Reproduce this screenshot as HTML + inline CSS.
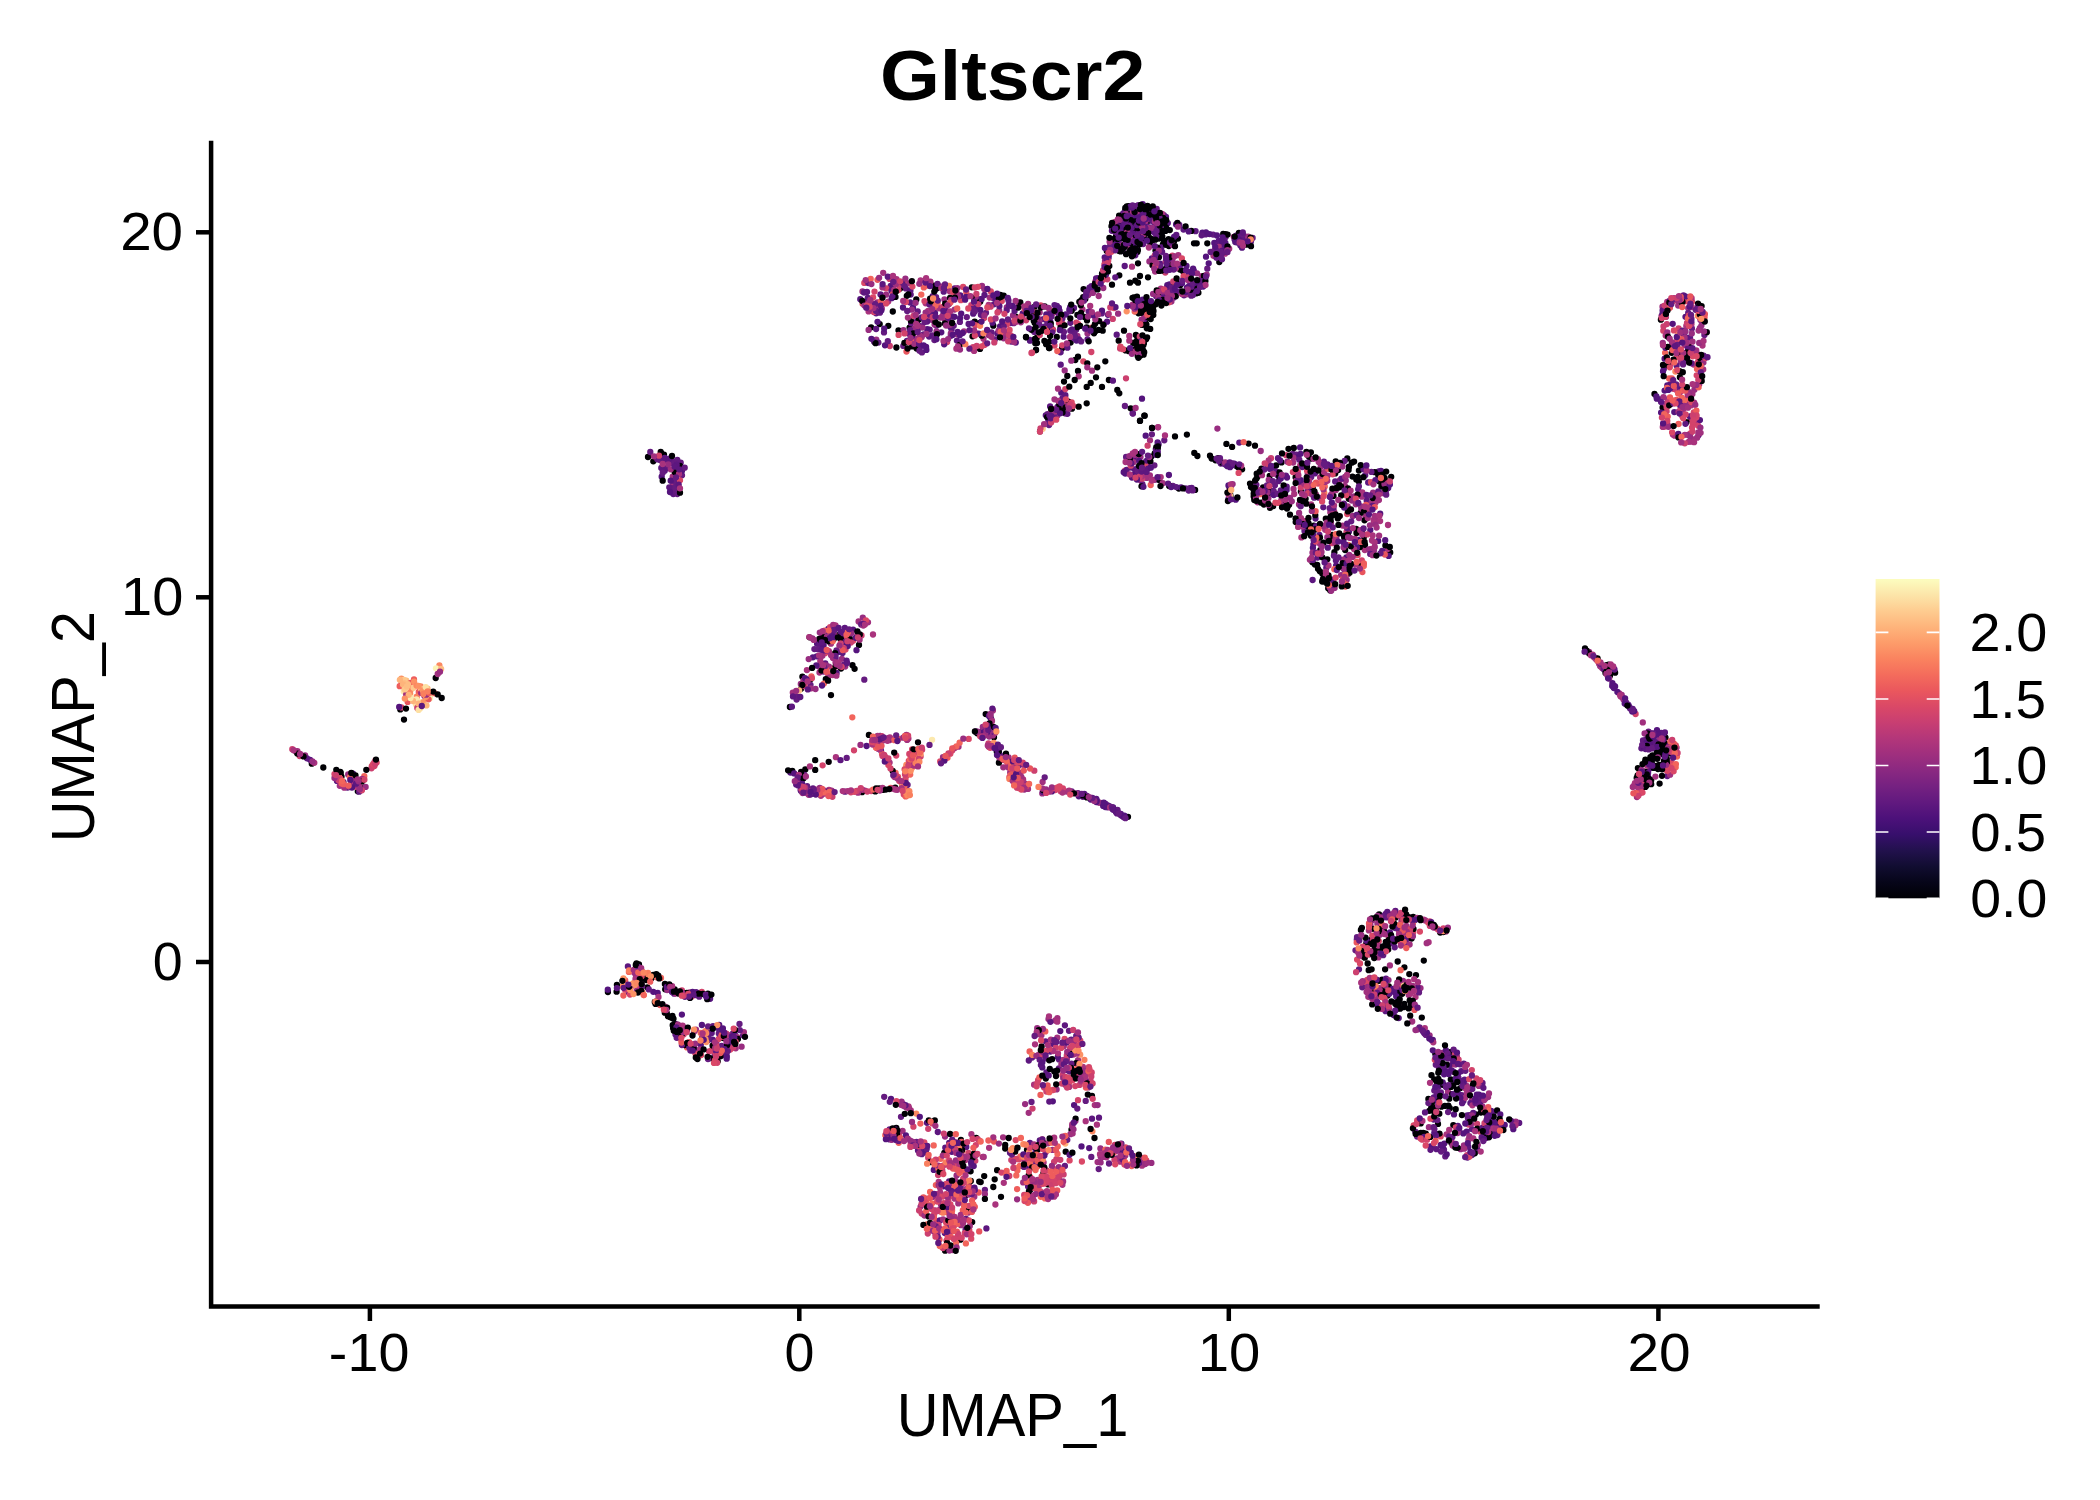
<!DOCTYPE html><html lang="en"><head><meta charset="utf-8"><title>Gltscr2</title>
<style>html,body{margin:0;padding:0;background:#fff}svg{display:block}text{font-family:"Liberation Sans",sans-serif;fill:#000}</style></head><body>
<svg width="2100" height="1500" viewBox="0 0 2100 1500">
<rect width="2100" height="1500" fill="#fff"/>
<defs><linearGradient id="mg" x1="0" y1="1" x2="0" y2="0">
<stop offset="0.00" stop-color="#000004"/>
<stop offset="0.05" stop-color="#060519"/>
<stop offset="0.10" stop-color="#110d31"/>
<stop offset="0.15" stop-color="#22114d"/>
<stop offset="0.20" stop-color="#370f6c"/>
<stop offset="0.25" stop-color="#4c117a"/>
<stop offset="0.30" stop-color="#61197f"/>
<stop offset="0.35" stop-color="#752181"/>
<stop offset="0.40" stop-color="#8a2881"/>
<stop offset="0.45" stop-color="#9f2f7e"/>
<stop offset="0.50" stop-color="#b3367a"/>
<stop offset="0.55" stop-color="#c83e72"/>
<stop offset="0.60" stop-color="#da4867"/>
<stop offset="0.65" stop-color="#ea575d"/>
<stop offset="0.70" stop-color="#f46c5c"/>
<stop offset="0.75" stop-color="#fa835f"/>
<stop offset="0.80" stop-color="#fd9c6a"/>
<stop offset="0.85" stop-color="#feb47b"/>
<stop offset="0.90" stop-color="#fecc90"/>
<stop offset="0.95" stop-color="#fce5a9"/>
<stop offset="1.00" stop-color="#fcfdbf"/>
</linearGradient></defs>
<g stroke="#000" stroke-width="4.5" fill="none" stroke-linecap="butt">
<path d="M211.1 140.7V1308.8M208.9 1306.55H1819.7"/>
<path d="M196 232.3H209.5"/>
<path d="M196 597.3H209.5"/>
<path d="M196 962.0H209.5"/>
<path d="M369.9 1308V1321"/>
<path d="M799.3 1308V1321"/>
<path d="M1228.8 1308V1321"/>
<path d="M1658.4 1308V1321"/>
</g>
<text transform="translate(120.17,250.20) scale(1.0673,1)" font-size="53">20</text>
<text transform="translate(121.12,615.00) scale(1.0558,1)" font-size="53">10</text>
<text transform="translate(152.85,980.40) scale(1.0142,1)" font-size="53">0</text>
<text transform="translate(328.87,1370.50) scale(1.0508,1)" font-size="53">-10</text>
<text transform="translate(784.55,1370.50) scale(1.0142,1)" font-size="53">0</text>
<text transform="translate(1197.80,1370.50) scale(1.0616,1)" font-size="53">10</text>
<text transform="translate(1627.46,1370.50) scale(1.0729,1)" font-size="53">20</text>
<text transform="translate(896.77,1435.70) scale(0.9583,1)" font-size="60.4">UMAP_1</text>
<text transform="translate(94,842.22) rotate(-90) scale(0.9566,1)" font-size="60.4">UMAP_2</text>
<text transform="translate(879.92,100.00) scale(1.1080,1)" font-size="69.5" font-weight="bold">Gltscr2</text>
<rect x="1875.6" y="579" width="63.9" height="319.3" fill="url(#mg)"/>
<g stroke="#fff" stroke-width="1.6">
<path d="M1875.6 632.4h12.8M1926.7 632.4h12.8"/>
<path d="M1875.6 699.0h12.8M1926.7 699.0h12.8"/>
<path d="M1875.6 765.5h12.8M1926.7 765.5h12.8"/>
<path d="M1875.6 832.0h12.8M1926.7 832.0h12.8"/>
<path d="M1875.6 898.3h12.8M1926.7 898.3h12.8"/>
</g>
<text transform="translate(1969.61,650.90) scale(1.0537,1)" font-size="53">2.0</text>
<text transform="translate(1969.60,717.50) scale(1.0370,1)" font-size="53">1.5</text>
<text transform="translate(1969.53,784.00) scale(1.0548,1)" font-size="53">1.0</text>
<text transform="translate(1970.22,850.50) scale(1.0284,1)" font-size="53">0.5</text>
<text transform="translate(1970.18,917.00) scale(1.0457,1)" font-size="53">0.0</text>
<g fill="none" stroke-width="6.30" stroke-linecap="round">
<path stroke="#000004" d="M654.8 1002.0h0M1388.1 944.9h0M974.7 321.7h0M1451.5 1142.9h0M435.7 678.0h0M993.3 1187.0h0M1425.8 1133.6h0M957.3 1144.6h0M1102.0 386.9h0M1162.9 244.5h0M1372.2 1004.4h0M1283.7 505.4h0M1149.2 316.8h0M1134.8 349.3h0M1117.3 390.0h0M1180.0 269.6h0M1116.8 248.3h0M1110.7 245.0h0M1651.8 761.9h0M1138.6 303.7h0M882.8 789.9h0M1036.7 338.0h0M1143.9 309.3h0M960.4 1239.7h0M990.5 717.7h0M1360.9 929.9h0M1148.4 220.8h0M1126.8 206.5h0M815.2 769.9h0M879.1 788.4h0M1450.1 1052.1h0M994.0 737.2h0M1151.5 304.0h0M1165.5 299.1h0M666.8 1013.1h0M1382.1 979.7h0M1368.3 941.7h0M815.2 760.2h0M1015.6 316.7h0M1143.1 350.5h0M1254.1 484.3h0M1169.2 295.5h0M895.8 1131.5h0M671.8 1017.7h0M1472.6 1085.4h0M1326.2 581.5h0M1299.5 519.1h0M1128.0 816.8h0M1643.0 774.3h0M1679.4 341.2h0"/>
<path stroke="#a1307e" d="M1005.5 759.0h0M1137.4 457.5h0M1073.3 1054.6h0M1078.0 1060.1h0M905.6 788.5h0M1092.0 370.7h0M966.0 1207.6h0M1150.9 229.0h0M1339.7 480.5h0M988.7 746.8h0M954.6 309.6h0M843.8 640.1h0M1370.4 925.1h0M1315.9 494.4h0"/>
<path stroke="#ee5d5c" d="M827.7 672.9h0M951.8 1213.4h0M934.9 1166.9h0"/>
<path stroke="#651b80" d="M1646.3 739.1h0M955.8 295.9h0M1034.3 331.9h0M1146.3 225.8h0M1212.8 252.3h0M960.5 1146.1h0M1458.5 1077.9h0M1356.8 939.6h0M1156.7 209.0h0M1444.0 1149.7h0M1453.0 1082.5h0M1085.7 1100.9h0M1296.5 454.7h0M350.8 784.7h0M889.6 1129.5h0M1277.5 475.2h0M1172.9 486.0h0M993.2 298.0h0M1117.5 810.0h0M1126.1 457.0h0M960.7 1186.7h0"/>
<path stroke="#da4867" d="M1001.8 301.0h0M1413.2 932.2h0M825.1 653.2h0M1440.7 1136.4h0M1399.2 985.5h0M1413.7 1125.5h0M1405.8 936.0h0M1040.6 319.6h0M932.4 1123.4h0M940.2 761.5h0M1318.1 483.6h0"/>
<path stroke="#982d80" d="M1048.5 421.5h0M940.2 1209.1h0M741.6 1046.7h0M1428.9 1127.2h0M845.2 666.5h0M1382.3 493.2h0M1460.6 1149.2h0M1687.8 402.0h0M1694.4 389.7h0M1104.0 324.0h0M1331.0 522.8h0M880.8 740.4h0M1641.9 780.4h0M876.3 339.7h0M864.9 790.6h0M1320.6 466.8h0"/>
<path stroke="#55147d" d="M941.3 332.3h0M842.6 642.4h0M943.5 1186.3h0M1625.3 701.9h0M1477.1 1148.8h0M838.3 652.1h0M710.1 998.8h0M1121.8 222.3h0M1432.8 1039.9h0M817.1 643.7h0M1412.1 1007.5h0M790.4 772.6h0M1378.2 1004.2h0M1188.3 275.4h0M725.8 1035.5h0M1314.9 473.4h0M1158.6 444.2h0M1051.6 789.4h0M1045.8 415.3h0M1235.3 242.0h0M891.2 1130.3h0M1134.4 225.1h0M1015.8 342.6h0"/>
<path stroke="#a9337d" d="M1693.7 364.5h0M665.0 1006.6h0M1138.3 459.3h0M1229.2 248.7h0M923.0 1151.3h0M1622.8 697.6h0M1311.1 504.4h0M1038.6 1055.0h0M1378.5 987.9h0M1371.4 548.9h0M983.5 338.8h0M829.0 789.8h0M875.4 744.4h0M888.2 301.6h0M1261.7 471.3h0M1594.2 657.5h0"/>
<path stroke="#cc406f" d="M971.3 305.2h0M1605.6 667.9h0M1694.4 352.5h0M906.3 775.8h0M1006.5 333.5h0M1665.4 769.6h0M921.7 1213.6h0M353.9 778.5h0M958.4 1166.3h0M1010.7 335.3h0M1107.3 279.3h0M1034.1 1201.4h0M1062.5 1074.9h0M1011.3 1160.1h0M969.0 1185.1h0M927.8 1233.5h0"/>
<path stroke="#5d177f" d="M1057.5 407.0h0M813.0 788.3h0M1000.0 755.2h0M1220.8 463.5h0M1131.2 247.2h0M1365.2 475.2h0M1359.0 969.3h0M1050.6 331.4h0M1148.5 217.9h0M1491.7 1118.7h0M1415.3 1131.7h0M1650.7 765.8h0M937.8 1132.0h0M975.9 308.0h0M932.0 304.2h0M842.5 653.0h0M935.3 289.6h0M1062.3 398.6h0M1133.3 239.2h0M1002.4 756.7h0M1145.7 462.0h0M918.0 1150.4h0M1519.2 1122.9h0M1138.1 467.6h0"/>
<path stroke="#d3436b" d="M959.7 1218.9h0M1055.2 1177.5h0M1124.5 1164.6h0M1678.7 296.9h0M1119.6 1159.3h0M1331.9 543.2h0M903.8 794.4h0M683.6 1034.5h0M968.4 1152.9h0M899.1 1135.2h0M1422.3 1139.7h0M1437.7 929.2h0"/>
<path stroke="#e8555d" d="M1414.5 1009.9h0M994.0 1141.5h0"/>
<path stroke="#feb47b" d="M1065.3 1143.6h0"/>
<path stroke="#fb8861" d="M622.6 986.2h0M966.4 1181.4h0M680.0 1038.8h0"/>
<path stroke="#f97f5e" d="M429.6 696.8h0M706.8 1030.8h0"/>
<path stroke="#fde0a3" d="M416.0 704.6h0"/>
<path stroke="#f2655c" d="M1324.8 486.5h0M933.7 1145.4h0M1677.0 756.5h0"/>
<path stroke="#fc9264" d="M1080.2 1054.7h0M1126.7 311.3h0"/>
<path stroke="#000004" d="M1657.2 752.3h0M972.2 1222.1h0M1076.1 1063.2h0M1416.0 975.1h0M1357.8 476.9h0M972.5 336.3h0M879.7 324.1h0M707.2 999.2h0M838.5 635.2h0M357.8 791.3h0M1585.0 648.5h0M717.7 1061.2h0M822.6 635.0h0M1163.5 225.6h0M1151.6 310.2h0M1147.3 308.0h0M1049.3 341.8h0M1119.3 393.3h0M1263.9 504.5h0M960.9 1139.9h0M1238.4 465.5h0M1173.8 267.3h0M1300.9 491.5h0M1169.8 230.1h0M1333.5 495.9h0M1137.6 310.1h0M693.6 1046.0h0M1186.9 434.6h0M1048.2 1184.4h0M1283.0 501.6h0M688.9 1045.3h0M976.2 1137.8h0M1644.8 782.4h0M707.9 996.2h0M1441.4 1106.7h0M1305.6 498.8h0M1133.2 343.0h0M1689.3 346.6h0M1056.8 336.9h0M1683.6 333.0h0M1176.3 282.3h0M1174.0 241.2h0M819.3 639.0h0M1701.6 306.1h0M1311.3 527.3h0M1672.8 746.8h0M1226.4 443.9h0M1140.2 355.7h0M1301.9 521.5h0M1030.5 1189.6h0M1491.1 1133.5h0M1413.5 929.0h0M916.6 348.6h0M1138.5 313.3h0M1363.4 984.9h0"/>
<path stroke="#5d177f" d="M1124.9 231.2h0M1183.5 229.5h0M1169.4 284.5h0M1028.1 1186.4h0M1641.4 748.3h0M1142.2 469.5h0M1039.2 324.6h0M1043.6 319.1h0M1366.7 500.5h0M1074.0 307.9h0M1286.7 486.7h0M956.9 340.6h0M1122.3 1148.4h0M1471.9 1155.0h0M1464.6 1079.7h0M1386.8 1008.5h0M1649.0 746.0h0M707.7 1040.4h0M1626.0 704.1h0M1240.4 245.4h0M1122.1 215.4h0M1301.1 483.6h0M1048.2 418.9h0M876.1 313.3h0M1195.6 231.2h0M1033.4 316.4h0M735.0 1035.0h0M1319.4 534.8h0M673.3 494.0h0"/>
<path stroke="#651b80" d="M1102.0 803.2h0M1032.1 1057.5h0M1175.3 293.5h0M1179.3 224.8h0M881.0 750.4h0M884.2 1096.8h0M726.3 1052.8h0M966.8 317.1h0M1425.9 1034.9h0M1064.9 1166.0h0M1069.0 1030.8h0M1698.5 435.3h0M676.1 1024.1h0M1307.4 490.9h0M1070.3 330.8h0M1434.3 1090.6h0M1155.7 479.6h0M714.7 1054.8h0M889.7 1139.4h0M1108.7 255.2h0M965.6 1229.4h0M1220.0 248.7h0M684.9 996.8h0M1667.3 776.0h0M1654.6 740.9h0M1147.9 313.2h0"/>
<path stroke="#d3436b" d="M1268.0 465.3h0M936.5 1221.2h0M1388.9 937.3h0M1088.9 1067.2h0M1696.7 375.3h0M640.0 988.0h0M1004.6 758.8h0M952.2 750.4h0M1385.5 480.5h0M964.7 1233.2h0M919.2 1146.5h0"/>
<path stroke="#a9337d" d="M1364.8 550.0h0M857.2 635.5h0M1398.8 930.3h0M1129.3 340.7h0M816.6 791.9h0M1281.3 500.1h0M954.6 1217.0h0M971.4 1134.2h0M878.4 306.7h0M1446.0 931.6h0M678.3 1034.5h0M974.1 350.9h0"/>
<path stroke="#f97f5e" d="M908.6 768.0h0M406.0 687.9h0M1324.3 493.0h0"/>
<path stroke="#a1307e" d="M924.5 1215.6h0M672.7 476.7h0M955.4 1142.1h0M866.7 302.3h0M1335.1 543.0h0M1378.3 957.4h0M1008.6 757.3h0M901.0 1104.8h0M952.3 1250.1h0M1603.5 667.1h0M1323.5 489.4h0M858.6 621.5h0M828.0 677.5h0M1257.6 502.3h0"/>
<path stroke="#da4867" d="M906.2 283.7h0M1010.1 766.3h0M1469.2 1079.2h0M960.8 300.2h0M1069.6 1160.4h0M844.6 636.6h0M371.8 766.1h0M1669.8 748.6h0M862.6 303.7h0M1042.9 1181.3h0"/>
<path stroke="#55147d" d="M1315.5 518.6h0M1061.3 392.7h0M973.2 313.7h0M1644.1 747.6h0M913.9 762.8h0M853.1 629.6h0M1656.8 398.7h0M1666.6 746.8h0M1160.2 263.6h0M1651.0 747.0h0M828.3 628.9h0M1495.3 1131.0h0M979.3 734.0h0M347.5 787.5h0M991.1 733.8h0M1446.1 1057.7h0M1009.5 761.8h0M982.7 731.5h0M954.5 316.8h0M1491.2 1110.8h0M1095.0 799.1h0"/>
<path stroke="#e8555d" d="M890.7 787.8h0M1637.7 785.1h0M660.0 1005.0h0M877.5 279.8h0M907.6 790.4h0"/>
<path stroke="#fde0a3" d="M420.5 708.1h0"/>
<path stroke="#982d80" d="M891.5 1138.2h0M999.2 310.5h0M1131.5 239.7h0M1039.4 320.8h0M1332.5 490.8h0M1688.2 308.1h0M797.7 783.6h0M1174.7 265.5h0M968.4 1212.5h0M716.4 1041.7h0M1231.4 465.6h0M1666.4 750.8h0M640.9 970.9h0M1052.6 1149.9h0M1466.1 1085.4h0"/>
<path stroke="#ee5d5c" d="M1685.5 399.3h0M401.7 683.0h0M1697.0 369.0h0M908.6 770.8h0M916.2 762.2h0M905.7 796.4h0M414.0 679.5h0"/>
<path stroke="#cc406f" d="M861.5 635.4h0M1165.3 272.6h0M1065.9 402.7h0M1467.0 1155.1h0M1114.9 1145.0h0M1678.6 328.3h0M1073.2 1029.9h0M927.7 313.7h0"/>
<path stroke="#f2655c" d="M930.1 1191.9h0M898.6 739.0h0"/>
<path stroke="#fb8861" d="M910.9 761.4h0"/>
<path stroke="#000004" d="M1159.2 480.0h0M1111.8 243.1h0M1643.5 783.2h0M1143.6 354.7h0M1421.5 1136.5h0M1087.8 1094.6h0M1139.9 218.4h0M805.3 769.4h0M1438.0 1123.9h0M1395.7 917.5h0M720.1 1049.5h0M1040.0 431.3h0M792.3 770.8h0M1266.6 489.1h0M1120.9 229.8h0M637.5 970.7h0M1308.6 523.3h0M1413.2 916.9h0M1322.4 573.8h0M1670.5 753.4h0M1081.4 300.2h0M1109.3 247.6h0M638.2 979.5h0M1370.8 940.0h0M802.6 774.3h0M1335.3 466.7h0M1168.8 246.1h0M1644.6 743.6h0M1665.5 737.7h0M1661.9 736.7h0M1374.2 950.1h0M720.4 1033.3h0M1119.4 217.4h0M974.3 297.9h0M1387.5 995.5h0M1379.5 481.5h0M1337.8 518.4h0M1177.9 238.6h0M810.3 679.4h0M801.0 688.8h0M1348.6 469.9h0M1221.1 244.5h0M841.0 668.6h0M1182.7 270.9h0M979.9 323.0h0"/>
<path stroke="#651b80" d="M666.7 468.0h0M1109.0 1163.5h0M812.6 793.7h0M846.7 757.9h0M947.8 312.2h0M1008.5 300.5h0M1122.8 251.0h0M972.4 308.9h0M945.8 287.9h0M923.6 334.4h0M1651.8 733.4h0M1173.9 297.5h0M1121.6 227.9h0M1648.5 731.6h0M1188.7 490.5h0M1047.3 322.5h0M674.7 490.7h0M676.7 1037.8h0M932.6 335.5h0M923.6 1144.9h0M1438.6 1066.7h0M861.2 624.5h0M628.7 992.4h0M1133.4 217.8h0"/>
<path stroke="#d3436b" d="M947.6 1164.6h0M1671.7 742.4h0M1018.8 1159.4h0M1039.8 335.1h0M878.7 304.2h0M715.3 1044.3h0M1691.2 419.3h0M953.9 1163.3h0"/>
<path stroke="#a9337d" d="M1663.4 741.4h0M938.7 1181.9h0M1382.5 987.9h0M889.8 1133.8h0M889.4 740.2h0M1451.4 1140.2h0M1313.0 536.6h0M1371.4 928.6h0M1349.0 494.1h0M1373.6 519.9h0M1415.5 996.9h0M882.6 740.8h0M1390.9 914.3h0M1007.9 765.6h0M1142.7 1162.7h0M1022.4 315.9h0M1082.9 1067.0h0M1167.3 287.0h0M882.5 787.8h0M910.8 1110.5h0M965.5 1160.0h0M959.3 1194.2h0M1145.4 302.3h0M1320.1 477.5h0M1607.9 676.4h0"/>
<path stroke="#5d177f" d="M1648.1 771.3h0M1037.5 318.2h0M932.7 296.1h0M835.6 658.3h0M1218.8 240.8h0M1052.9 1044.0h0M960.6 1189.4h0M1373.5 990.9h0M1397.0 988.7h0M1394.7 947.3h0M1144.7 476.2h0M1131.1 467.5h0M1467.5 1157.5h0M1433.7 1119.6h0"/>
<path stroke="#55147d" d="M1120.8 814.0h0M1444.3 1143.6h0M1437.1 1100.9h0M1240.7 467.4h0M1142.6 299.7h0M1663.0 371.3h0M1089.2 1148.1h0M1313.4 544.3h0M1147.7 464.9h0M812.9 657.3h0M734.5 1045.7h0M1000.1 326.3h0M988.4 732.8h0M949.1 1181.5h0M860.3 299.2h0M1606.8 672.3h0M1135.0 473.7h0M997.3 333.5h0M1652.9 744.1h0M1442.8 1146.9h0M801.4 781.1h0M903.0 307.5h0"/>
<path stroke="#a1307e" d="M1036.3 320.1h0M1667.6 424.6h0M1697.5 309.0h0M1676.2 389.8h0M1636.6 783.8h0M1371.4 503.1h0M353.4 781.0h0M1097.6 1162.1h0M1408.8 995.0h0M1665.8 760.0h0M1389.9 965.4h0M833.0 657.9h0M374.4 762.5h0M1365.4 516.1h0M1038.0 1182.9h0M907.1 739.9h0M1674.0 298.2h0"/>
<path stroke="#da4867" d="M1681.8 404.0h0M1378.8 941.1h0M830.6 795.6h0M730.3 1049.6h0M1064.6 1038.8h0M1435.8 927.8h0M853.1 640.7h0M1078.3 324.1h0M357.6 783.2h0M1036.8 1189.4h0M1671.4 762.8h0M1670.8 745.6h0M1069.3 1082.6h0M718.7 1038.9h0M691.9 1045.2h0"/>
<path stroke="#fb8861" d="M646.5 977.8h0M439.4 665.5h0"/>
<path stroke="#982d80" d="M1350.2 537.9h0M1429.6 1035.3h0M1346.7 579.8h0M1380.4 927.2h0M1142.5 1157.9h0M1118.1 313.7h0M1037.2 1028.2h0M1039.6 1159.1h0M920.9 1152.1h0M1048.5 1018.9h0M1636.5 792.7h0M1025.0 783.6h0M818.5 666.3h0M1257.0 491.0h0M1589.1 651.9h0M902.9 1103.8h0M1042.3 793.4h0M878.1 748.8h0M1699.2 384.2h0"/>
<path stroke="#f2655c" d="M824.6 630.6h0M1665.1 352.8h0M364.3 776.2h0M937.6 303.5h0M1114.5 1152.1h0M932.1 1203.3h0"/>
<path stroke="#cc406f" d="M1677.6 752.9h0M1125.0 470.7h0M292.3 749.2h0M1172.4 255.7h0M1454.9 1053.6h0M1054.1 1161.8h0M1286.1 455.2h0M948.3 1200.6h0M860.1 790.2h0"/>
<path stroke="#fce9ae" d="M403.8 691.4h0"/>
<path stroke="#e8555d" d="M882.0 753.8h0M1359.4 938.3h0M1091.7 327.6h0M1676.4 399.9h0M1014.8 757.7h0M1057.2 1190.5h0"/>
<path stroke="#fc9264" d="M902.0 784.2h0M1678.2 334.1h0M905.9 792.3h0"/>
<path stroke="#ee5d5c" d="M418.8 691.9h0M962.8 1210.4h0M1017.7 775.3h0"/>
<path stroke="#febe83" d="M406.3 680.6h0"/>
<path stroke="#d3436b" d="M871.2 791.1h0M885.2 756.9h0M1007.3 762.8h0M1055.2 790.1h0M875.0 738.9h0M1640.7 777.2h0M1676.9 340.2h0M850.9 792.3h0"/>
<path stroke="#e8555d" d="M879.5 745.7h0M926.3 1203.1h0M956.9 1231.6h0M933.8 310.7h0M728.5 1048.1h0"/>
<path stroke="#a1307e" d="M1028.0 788.9h0M735.7 1048.3h0M1412.2 1021.5h0M1692.4 393.9h0M1131.3 455.7h0M1244.8 236.5h0M344.3 787.7h0M1010.2 772.5h0M1201.7 276.1h0M1041.4 1035.2h0M1330.3 512.3h0M883.2 272.8h0M940.9 1204.2h0M634.3 972.8h0M1029.1 1200.7h0M1375.6 519.3h0M1141.7 207.7h0M829.0 666.6h0M1057.4 1018.2h0M942.7 315.7h0M1008.4 767.6h0M962.1 1168.7h0"/>
<path stroke="#000004" d="M970.8 1181.0h0M311.8 763.7h0M1111.5 226.2h0M323.3 767.5h0M1324.1 575.4h0M862.0 792.2h0M1400.1 1005.0h0M1440.2 932.6h0M909.6 327.6h0M723.3 1038.0h0M1375.2 982.1h0M859.0 644.9h0M400.3 709.4h0M1094.9 324.1h0M1235.7 465.6h0M1384.1 949.7h0M825.8 679.2h0M1229.8 492.3h0M1698.0 303.6h0M895.2 787.6h0M1078.0 370.9h0M1374.5 988.9h0M1135.7 311.2h0M1162.3 236.3h0M1650.3 761.9h0M1382.4 990.6h0M1379.6 925.0h0M1254.3 500.0h0M1173.9 285.6h0M1086.7 386.9h0M1065.7 1151.7h0M1398.4 993.1h0M1071.5 1129.7h0M651.5 978.2h0M1433.6 1110.8h0M1166.3 224.8h0M667.1 1007.7h0M648.0 457.0h0M1665.5 743.8h0M1381.4 486.6h0M1041.6 1046.5h0M997.1 1170.2h0M1408.8 917.2h0M949.2 1147.2h0M1071.9 408.7h0M1313.8 525.7h0M1364.5 520.3h0M1150.9 306.0h0M1149.6 314.9h0M1460.4 1088.1h0M1348.8 498.8h0M1664.3 745.7h0M1448.4 1105.6h0M906.8 295.8h0"/>
<path stroke="#5d177f" d="M1124.7 266.0h0M845.0 791.7h0M1153.8 232.1h0M1665.4 347.8h0M1035.5 1151.9h0M1239.3 442.6h0M1664.9 732.4h0M1406.4 917.7h0M1386.0 978.7h0M954.6 288.4h0M1323.3 507.3h0M1461.2 1071.2h0M1117.0 813.4h0M1670.4 384.1h0M968.6 323.9h0M825.3 663.4h0M1161.3 247.4h0M1658.8 736.3h0M1439.7 1064.5h0M1106.0 274.6h0M993.9 304.3h0M921.8 1154.2h0"/>
<path stroke="#651b80" d="M1030.0 340.0h0M885.3 759.4h0M986.0 312.8h0M1082.9 796.8h0M1678.7 388.1h0M680.7 462.7h0M1114.3 810.0h0M1461.7 1095.2h0M682.0 475.3h0M1119.6 221.4h0M1480.5 1097.0h0M1184.1 293.4h0M936.4 325.7h0M1071.2 1039.6h0M723.9 1055.0h0M890.7 286.0h0M810.5 684.8h0M1304.5 530.9h0M1118.7 223.8h0M1076.1 329.8h0M1471.9 1129.1h0M1236.7 235.4h0M917.1 321.0h0M1059.0 1059.4h0"/>
<path stroke="#ee5d5c" d="M920.4 1123.6h0M1366.7 950.6h0M1029.6 1051.4h0M927.5 285.5h0M926.2 1211.3h0M935.9 1185.1h0"/>
<path stroke="#982d80" d="M862.8 617.6h0M1063.2 1078.1h0M1300.5 522.7h0M719.0 1050.9h0M1671.2 403.9h0M1689.2 392.1h0M1098.2 802.3h0M1053.7 409.1h0M945.0 1136.6h0M1006.8 307.5h0M1075.4 1121.0h0M636.0 975.9h0M1613.4 668.2h0M800.8 683.9h0M860.5 744.9h0M1621.7 695.0h0M1341.1 575.1h0M952.9 1219.1h0M1100.7 1156.8h0M1665.6 415.9h0M1070.4 1134.2h0M1024.3 789.5h0M1374.0 550.2h0M977.6 298.9h0"/>
<path stroke="#55147d" d="M1653.0 741.9h0M712.6 1039.7h0M1030.0 340.7h0M700.8 1044.7h0M927.0 1122.8h0M880.1 736.0h0M1107.1 321.7h0M856.5 650.2h0M1074.1 1105.1h0M918.7 328.0h0M1133.4 458.0h0M1051.8 791.4h0M1132.0 477.5h0M1129.0 211.4h0M676.7 486.7h0"/>
<path stroke="#fce9ae" d="M406.7 692.5h0M410.5 694.5h0"/>
<path stroke="#cc406f" d="M1051.9 1139.2h0M1064.4 404.1h0M973.1 347.1h0M976.3 333.5h0M917.4 758.7h0M1674.0 388.9h0M1050.7 1194.3h0M1075.6 1045.2h0M1403.1 916.8h0"/>
<path stroke="#fb8861" d="M706.4 1035.7h0M949.0 286.0h0"/>
<path stroke="#a9337d" d="M1034.1 1084.7h0M689.6 992.3h0M1428.6 942.2h0M939.2 308.3h0M842.8 791.1h0M1142.0 1165.7h0M1387.0 934.4h0M1233.8 236.8h0M862.5 789.8h0M1691.8 307.1h0M1231.1 486.1h0M1131.6 237.3h0M1285.6 499.9h0M1076.7 1053.7h0M1433.3 1042.3h0M1063.6 1059.9h0M1120.3 1161.7h0M1401.7 1006.4h0M828.9 651.2h0"/>
<path stroke="#da4867" d="M1367.2 979.9h0M1166.8 289.5h0M1692.0 301.7h0"/>
<path stroke="#f2655c" d="M823.9 683.6h0M963.9 1203.3h0M1130.4 1164.4h0M687.0 1047.4h0M940.7 1158.8h0"/>
<path stroke="#cc406f" d="M1063.6 1174.4h0M990.6 306.7h0M1673.9 300.7h0M1666.9 324.1h0M963.2 1178.6h0M1090.6 1081.0h0M1045.3 1183.3h0M943.8 1133.6h0M1079.6 1084.9h0"/>
<path stroke="#982d80" d="M1376.7 495.9h0M1099.7 802.7h0M1596.4 659.7h0M348.2 774.5h0M1219.0 253.5h0M1087.5 333.5h0M949.1 323.1h0M1388.5 980.1h0M1669.7 307.2h0M1172.5 245.1h0M1482.4 1106.5h0M908.9 1108.0h0M936.5 331.3h0M1442.4 1052.8h0M1600.2 666.2h0M1307.7 473.4h0M1368.8 985.2h0M956.6 1175.4h0M1134.4 454.9h0M1700.5 320.0h0"/>
<path stroke="#651b80" d="M907.6 784.8h0M1219.7 258.7h0M1493.8 1124.5h0M1669.2 746.0h0M1029.5 1168.1h0M1375.9 935.9h0M1228.4 499.2h0M1445.3 1156.4h0M1417.1 1136.5h0M950.4 327.1h0M953.7 325.7h0M1170.2 289.8h0M1156.2 296.3h0M1683.5 295.4h0M1225.5 237.3h0"/>
<path stroke="#d3436b" d="M1471.8 1070.1h0M830.1 627.1h0M946.5 1240.6h0M886.2 288.4h0M1036.6 1086.3h0M1038.1 1080.2h0M1308.1 493.2h0M1479.9 1131.5h0M873.7 312.0h0M1694.9 421.9h0M1061.9 1083.6h0"/>
<path stroke="#da4867" d="M1676.6 357.6h0M1030.3 1177.1h0M1307.0 470.5h0M1376.5 989.4h0M1672.0 302.1h0M1357.1 959.6h0M1015.7 1140.1h0M1080.3 1040.6h0M927.8 317.1h0M975.4 325.2h0M1125.6 1147.5h0"/>
<path stroke="#a9337d" d="M1379.9 1005.5h0M1300.2 465.4h0M892.7 788.7h0M1033.1 1199.2h0M989.1 727.6h0M1446.6 1134.3h0M1334.2 511.7h0M1404.0 944.1h0M950.0 291.4h0M896.8 739.2h0M1667.2 302.0h0M737.4 1037.2h0M1480.7 1151.6h0M1023.1 779.4h0M1039.4 1185.3h0"/>
<path stroke="#ee5d5c" d="M1669.1 378.4h0M898.7 1142.8h0M934.5 301.2h0M657.2 977.4h0M1686.1 299.1h0M1040.5 1094.9h0"/>
<path stroke="#55147d" d="M1297.5 457.1h0M1674.3 412.1h0M1336.1 565.6h0M1656.7 744.5h0M1445.9 1050.2h0M1226.0 464.8h0M1142.7 204.2h0M694.9 1049.4h0M949.2 1142.8h0M1446.7 1154.3h0M939.8 1220.4h0M933.8 1169.9h0M1663.8 368.9h0M1681.4 388.8h0M1234.3 463.7h0M1151.9 258.4h0M1104.7 257.3h0M1225.4 243.0h0M1125.3 473.6h0M1346.4 557.3h0M1479.0 1094.6h0"/>
<path stroke="#000004" d="M1137.4 251.9h0M1322.6 474.0h0M1384.1 931.2h0M1114.4 239.0h0M1125.6 350.4h0M977.2 733.3h0M1443.2 932.0h0M1169.2 486.0h0M737.9 1039.0h0M1119.3 245.9h0M674.7 989.5h0M980.0 348.9h0M1449.8 1108.2h0M1068.5 401.6h0M981.8 335.7h0M1325.8 518.7h0M985.7 714.1h0M1149.3 308.6h0M1645.4 759.7h0M674.5 1024.1h0M1141.7 349.0h0M1138.0 282.7h0M1328.2 588.3h0M1092.1 290.7h0M1255.7 500.1h0M897.1 1133.5h0M918.8 319.5h0M1168.6 239.1h0M1075.3 360.0h0M702.4 1037.9h0M1203.9 275.8h0M1366.2 943.9h0M1000.3 294.8h0M1267.5 496.1h0M1379.0 980.8h0M1651.2 780.0h0M1255.0 445.7h0M871.1 327.3h0M875.3 791.4h0M1306.4 521.2h0M1056.5 309.2h0M1314.9 564.6h0M1263.1 487.4h0M1312.4 562.2h0M1144.0 233.5h0M1079.3 301.8h0M1072.2 1071.1h0M1470.9 1117.6h0M1006.0 753.6h0M1133.3 253.1h0"/>
<path stroke="#a1307e" d="M694.0 1031.8h0M995.1 733.0h0M1317.9 459.2h0M356.7 787.1h0M676.0 1029.2h0M1703.2 369.4h0M1336.4 539.7h0M1375.8 998.7h0M1023.2 1182.4h0M1642.8 722.4h0M902.6 1130.8h0M1302.3 526.6h0M943.1 1219.4h0M1406.3 925.8h0M1088.4 1087.4h0M1347.7 506.4h0M1003.1 1137.3h0M1425.3 920.5h0M1344.9 485.8h0M1128.8 246.8h0M1361.8 496.7h0M1667.6 399.5h0M1055.3 1020.5h0M1342.6 525.6h0M1325.1 482.0h0M1066.4 791.6h0M833.2 624.9h0M1662.5 306.7h0"/>
<path stroke="#5d177f" d="M1463.4 1100.9h0M1650.6 768.0h0M1066.9 1070.0h0M891.0 739.1h0M1050.4 1021.8h0M1270.1 468.9h0M1091.5 286.1h0M896.0 1140.1h0M1378.8 471.3h0M1134.8 469.3h0M1096.3 798.8h0M978.8 333.6h0M1042.9 791.9h0M1278.5 481.2h0M1149.6 227.4h0M1139.4 212.0h0M1463.8 1063.6h0M1702.7 311.9h0"/>
<path stroke="#f97f5e" d="M918.2 750.4h0M416.8 696.7h0M420.7 686.5h0"/>
<path stroke="#fce9ae" d="M416.4 699.3h0"/>
<path stroke="#f2655c" d="M1322.3 487.3h0M938.4 1168.7h0M1045.0 1198.4h0M1037.1 1166.7h0M966.1 1171.2h0"/>
<path stroke="#fc9264" d="M634.4 985.7h0"/>
<path stroke="#e8555d" d="M826.3 667.8h0M1488.2 1107.2h0"/>
<path stroke="#feb47b" d="M1064.9 1139.7h0"/>
<path stroke="#fcf3b8" d="M430.0 698.3h0"/>
<path stroke="#fde0a3" d="M420.6 702.3h0"/>
<path stroke="#fb8861" d="M909.3 791.2h0"/>
<path stroke="#000004" d="M1431.8 1103.2h0M1341.0 486.5h0M1359.8 547.2h0M1311.0 529.6h0M933.6 285.7h0M1328.5 575.4h0M1135.9 335.0h0M1320.3 550.1h0M945.1 1250.7h0M1146.5 297.2h0M1288.5 448.8h0M1085.3 299.1h0M1606.6 665.2h0M1169.8 266.0h0M1338.1 470.0h0M1086.7 327.3h0M1365.0 544.8h0M1153.0 308.1h0M1026.0 337.3h0M1361.3 565.8h0M969.1 1208.4h0M996.8 751.8h0M1156.9 214.5h0M1062.1 348.2h0M1327.3 559.3h0M1313.1 531.3h0M1306.2 503.7h0M912.1 346.4h0M1127.1 211.4h0M1054.3 1071.5h0M965.7 1195.2h0M802.4 676.7h0M995.3 730.0h0M710.1 1058.2h0M1662.7 747.1h0M1279.2 476.4h0M665.2 989.3h0M1105.3 361.3h0M636.5 963.4h0M1194.0 243.3h0M1347.3 458.5h0M1146.4 324.4h0M1661.4 764.9h0M1203.2 279.8h0M684.7 1045.0h0M1453.3 1125.1h0M1348.0 488.4h0M668.0 1016.2h0M1287.5 506.8h0M1444.9 1105.9h0M828.1 680.7h0M1095.7 330.9h0M980.7 1182.1h0M1116.2 240.4h0"/>
<path stroke="#a1307e" d="M1153.5 479.9h0M1072.6 1133.4h0M1326.7 522.7h0M1402.0 939.9h0M992.9 735.4h0M882.5 287.4h0M1343.0 559.7h0M1320.0 543.7h0M916.0 338.7h0"/>
<path stroke="#651b80" d="M1078.7 1037.6h0M708.6 1038.0h0M1691.9 328.4h0M1684.0 335.2h0M916.5 1142.0h0M887.5 1135.8h0M1369.9 954.3h0M1433.6 1127.2h0M1207.3 268.7h0M898.6 1140.9h0M1689.3 322.6h0M1120.8 815.3h0M708.0 1032.9h0M1154.4 465.3h0M969.4 348.7h0M1312.3 489.4h0M823.4 671.5h0M1385.9 1005.3h0M1672.2 300.1h0M1649.9 741.7h0M1107.7 805.3h0M743.1 1035.3h0M905.8 288.4h0M901.0 1116.8h0M1071.4 1063.7h0M1058.9 1068.4h0M1213.1 234.6h0M699.2 996.7h0M1355.5 950.3h0M1193.9 271.0h0"/>
<path stroke="#a9337d" d="M1147.9 228.1h0M822.9 794.0h0M1160.9 288.7h0M1686.3 326.0h0M1062.4 1184.8h0M820.3 660.9h0M925.7 303.3h0M1224.9 253.7h0M1350.6 490.6h0M992.0 726.0h0M1035.0 1044.3h0M872.2 303.5h0M1465.3 1088.3h0M1142.7 322.6h0M698.9 1055.7h0M1069.1 1086.9h0M1037.6 1179.9h0M935.3 1210.3h0M1325.2 529.8h0M1095.4 281.3h0M920.1 336.0h0M1325.9 574.9h0M940.2 1192.4h0M959.7 1164.2h0"/>
<path stroke="#e8555d" d="M407.7 701.9h0M1015.1 778.8h0M1366.0 504.9h0M1356.7 942.4h0M1108.8 1141.9h0M917.9 761.5h0"/>
<path stroke="#fce9ae" d="M932.1 739.8h0"/>
<path stroke="#5d177f" d="M1368.2 482.5h0M828.5 634.3h0M1131.3 215.1h0M1054.5 305.1h0M1087.5 339.3h0M1084.8 795.7h0M1176.3 234.9h0M878.7 737.1h0M960.8 1143.6h0M1327.5 464.3h0M1418.3 1133.7h0M1070.4 322.8h0M1111.9 230.8h0M1496.7 1124.4h0M867.8 298.0h0M1493.3 1114.1h0M1385.6 1011.2h0M1166.0 216.8h0M1668.9 767.4h0M966.3 1146.9h0"/>
<path stroke="#ee5d5c" d="M1039.4 1077.4h0M1678.6 424.0h0M1045.3 1031.4h0M945.8 1150.9h0"/>
<path stroke="#da4867" d="M732.2 1041.0h0M1384.6 998.7h0M864.3 282.9h0M917.5 757.2h0M1428.1 922.5h0M1146.3 1160.3h0M911.0 1142.5h0M1083.3 361.3h0M714.9 1060.4h0M990.8 291.5h0M1417.2 1120.4h0M701.1 1055.0h0"/>
<path stroke="#55147d" d="M1381.0 470.9h0M1660.0 399.3h0M1065.8 314.5h0M945.3 307.9h0M1444.1 1074.3h0M1039.8 1140.4h0M701.9 1025.0h0M682.0 470.7h0M905.9 1135.4h0M1357.0 547.5h0M1312.9 547.8h0M1114.9 243.8h0M1698.9 312.6h0"/>
<path stroke="#982d80" d="M717.9 1056.1h0M1268.4 498.3h0M943.0 757.2h0M1644.4 780.6h0M983.7 1157.0h0M641.7 981.2h0M636.7 990.8h0M879.2 308.7h0M1417.5 1029.5h0M1345.8 480.4h0M969.1 1194.6h0M1197.0 273.3h0M1397.6 1006.0h0M424.5 695.9h0M1105.0 260.9h0M1384.5 484.1h0M1403.0 981.0h0"/>
<path stroke="#d3436b" d="M974.9 335.6h0M1170.3 263.4h0M1362.7 946.7h0M1062.2 345.3h0M1468.5 1124.6h0M957.3 1236.9h0M1033.9 1184.7h0M889.6 278.9h0M1042.0 1055.1h0M701.8 991.9h0M1361.8 560.3h0"/>
<path stroke="#cc406f" d="M1698.3 357.4h0M1048.8 332.6h0M918.8 755.2h0M1639.6 793.5h0M1429.8 921.5h0M884.2 754.9h0M1703.4 316.3h0M1641.0 789.7h0M725.9 1037.7h0"/>
<path stroke="#f2655c" d="M1681.6 397.7h0M950.2 1148.0h0"/>
<path stroke="#fb8861" d="M1023.3 1144.2h0M915.9 755.2h0"/>
<path stroke="#f97f5e" d="M1015.9 1168.0h0M969.4 1180.7h0M1321.8 498.9h0"/>
<path stroke="#fc9264" d="M401.4 678.6h0"/>
<path stroke="#fec88c" d="M404.0 679.9h0"/>
<path stroke="#fcf3b8" d="M436.0 668.3h0"/>
<path stroke="#a9337d" d="M835.5 625.5h0M1175.9 268.3h0M1043.6 1162.4h0M1014.0 341.5h0M1602.1 667.9h0M1157.0 269.8h0M1414.2 979.2h0M1691.0 405.4h0M1661.5 316.1h0M1229.6 488.8h0M1465.2 1097.8h0M1072.2 1124.5h0M1024.6 1161.5h0M908.5 1106.4h0M915.3 759.6h0M920.6 280.5h0M1031.1 1182.6h0M680.7 1026.8h0M1302.6 520.6h0"/>
<path stroke="#000004" d="M341.5 776.6h0M1615.1 672.7h0M1106.8 250.9h0M1438.5 1097.7h0M1159.1 238.6h0M656.7 1001.4h0M1254.6 498.4h0M1144.7 207.0h0M1098.5 281.7h0M1498.1 1121.7h0M1130.0 282.7h0M896.3 1127.8h0M1360.6 513.0h0M1390.2 552.4h0M971.8 287.3h0M1153.0 305.4h0M1386.2 471.6h0M1141.3 353.1h0M1437.9 1057.8h0M1242.1 469.3h0M1087.3 363.3h0M1149.6 210.7h0M1330.3 590.4h0M1256.7 473.7h0M1423.2 1132.9h0M1420.8 1132.9h0M1368.7 970.2h0M1379.3 950.6h0M1250.0 483.6h0M1178.8 488.5h0M1138.9 237.3h0M980.2 301.7h0M1339.8 516.1h0M1475.9 1114.5h0M1118.4 232.1h0M1033.1 1146.7h0M1135.2 253.4h0M1027.0 1149.8h0M653.2 974.9h0M1128.4 229.6h0M1043.0 790.0h0M1159.6 293.7h0M1420.7 1123.4h0M1205.1 278.3h0M1308.5 517.9h0M1154.7 453.5h0M849.8 638.4h0M1398.5 1003.7h0M1137.1 345.5h0M707.9 993.6h0M928.8 1120.4h0M1412.9 1128.3h0M1358.9 470.6h0M1335.2 473.4h0M1609.9 675.7h0M959.7 345.0h0M1071.7 310.8h0"/>
<path stroke="#5d177f" d="M1650.1 734.0h0M1273.9 467.6h0M1108.6 257.7h0M1135.7 229.8h0M1050.1 406.5h0M1389.3 993.7h0M844.8 627.8h0M1691.3 363.2h0M816.8 656.3h0M1139.1 1163.1h0M1045.6 1041.3h0M1235.8 236.2h0M1333.5 507.9h0M1116.7 334.7h0M887.8 276.7h0M1010.4 323.0h0M1180.3 265.1h0M975.9 731.4h0M726.1 1050.0h0M929.1 336.5h0M1006.7 310.2h0M1687.0 360.2h0M661.3 468.0h0M920.5 326.1h0M1029.9 1143.0h0M1482.5 1082.9h0M955.3 1148.6h0"/>
<path stroke="#fc9264" d="M705.5 1039.2h0M423.4 702.1h0M634.8 982.4h0"/>
<path stroke="#651b80" d="M990.7 732.2h0M1127.6 208.3h0M1069.6 1071.6h0M660.0 460.0h0M1688.2 312.9h0M991.5 332.5h0M1329.7 508.2h0M650.3 452.0h0M1183.7 278.4h0M1382.7 917.7h0M1047.5 414.1h0M843.4 665.0h0M836.5 650.4h0M905.5 1106.8h0M1144.5 472.3h0M1400.9 916.6h0M893.4 775.6h0M1123.2 213.5h0M1067.3 1139.8h0M868.3 283.0h0M1131.8 460.5h0M1155.8 449.1h0M1155.1 226.0h0M1101.8 313.4h0"/>
<path stroke="#cc406f" d="M938.5 1224.8h0M1477.1 1123.9h0M899.3 781.0h0M954.2 1225.4h0M681.9 990.5h0M882.5 756.1h0M935.8 1159.7h0M1044.1 1087.6h0M1034.3 770.7h0"/>
<path stroke="#e8555d" d="M974.8 1206.8h0M939.5 1239.4h0"/>
<path stroke="#a1307e" d="M1150.0 440.3h0M1335.8 490.2h0M1141.9 310.8h0M1146.8 477.9h0M907.8 1138.7h0M1370.8 982.4h0M944.5 318.7h0M1452.6 1145.5h0M1045.7 1152.2h0M1028.1 303.9h0M1368.3 996.8h0M827.0 636.6h0M830.9 643.7h0M673.0 485.0h0"/>
<path stroke="#982d80" d="M295.8 751.4h0M1116.8 1158.3h0M1684.8 345.2h0M1607.6 670.7h0M1241.0 239.0h0M1361.3 508.5h0M1351.9 500.6h0M1283.5 505.9h0M1601.7 665.4h0M1373.1 492.6h0M1146.0 469.8h0M1379.9 934.8h0M1515.8 1121.6h0M891.8 1139.8h0M1478.9 1085.9h0M1336.4 536.8h0M1064.7 370.4h0M1149.4 261.4h0M851.2 633.3h0"/>
<path stroke="#d3436b" d="M913.7 761.7h0M896.2 755.6h0M1076.3 322.6h0M984.1 318.1h0M1076.5 1073.4h0M1042.3 1139.5h0M910.6 1144.9h0M1014.2 780.4h0M943.8 1203.2h0M630.0 994.5h0M717.2 1062.8h0M1049.7 1182.3h0"/>
<path stroke="#55147d" d="M980.3 309.9h0M1394.3 992.1h0M1121.4 1143.6h0M1167.3 285.2h0M1137.1 1162.8h0M996.1 299.8h0M1388.2 488.1h0M353.0 773.7h0M1348.9 531.8h0M1388.6 555.9h0M1214.3 243.0h0M687.1 1029.7h0M1105.3 807.0h0M800.1 782.8h0M1272.1 492.8h0M1664.7 748.4h0M889.2 1137.7h0M1022.8 313.4h0M1457.9 1126.0h0"/>
<path stroke="#ee5d5c" d="M1039.8 1148.4h0M399.7 686.2h0M1123.9 1157.6h0M923.8 287.4h0"/>
<path stroke="#da4867" d="M1347.2 514.1h0M950.2 1227.9h0M1089.3 1073.4h0M950.4 1204.5h0M1357.6 555.2h0M1009.4 777.1h0"/>
<path stroke="#f2655c" d="M1131.7 1166.1h0M940.9 1211.8h0M904.3 786.2h0M1488.2 1110.7h0"/>
<path stroke="#febe83" d="M427.6 688.7h0"/>
<path stroke="#cc406f" d="M1147.6 445.7h0M625.1 989.7h0M1666.6 411.3h0M935.4 1233.9h0M1271.0 458.2h0M881.8 736.2h0M1114.4 1159.8h0M371.5 768.3h0M942.9 306.8h0"/>
<path stroke="#000004" d="M1095.0 283.5h0M896.4 347.5h0M1207.3 243.3h0M1135.3 280.7h0M1144.9 307.8h0M993.3 325.7h0M970.1 1156.7h0M1388.2 949.5h0M1382.4 474.6h0M366.3 769.8h0M1121.3 226.0h0M1118.0 1146.7h0M647.3 987.3h0M1137.4 339.7h0M919.6 1144.7h0M1261.5 468.7h0M680.3 1033.7h0M1078.0 356.7h0M1073.7 1072.8h0M1295.6 477.2h0M1253.7 496.3h0M1702.9 319.8h0M723.9 1047.3h0M1171.7 265.2h0M1662.0 775.8h0M1128.8 206.1h0M828.6 641.3h0M1313.8 468.9h0M1158.9 257.2h0M1356.3 479.4h0M828.7 761.8h0M950.1 1133.9h0M1404.4 967.3h0M1150.2 242.8h0M1137.7 356.1h0M1269.4 489.8h0M1196.6 293.3h0M1145.2 321.9h0M1150.3 212.5h0M1332.2 535.0h0M653.3 461.3h0M1605.5 670.4h0M1034.4 306.9h0M1699.5 307.2h0M1035.3 343.3h0M1608.5 664.7h0M1232.1 446.9h0M998.7 297.8h0M1701.7 380.9h0M1067.3 376.0h0M340.7 773.0h0M1099.2 321.2h0"/>
<path stroke="#55147d" d="M1234.1 465.1h0M1284.4 490.9h0M1084.3 793.8h0M1109.3 806.2h0M801.1 791.0h0M1174.1 236.8h0M1011.1 341.5h0M1345.0 570.2h0M1398.7 1018.1h0M1495.3 1122.4h0M1366.5 940.7h0M1424.2 1136.8h0M1121.5 1150.9h0M1235.7 499.7h0M1142.1 234.8h0M1665.8 311.4h0M1130.8 1152.6h0"/>
<path stroke="#a9337d" d="M1063.1 406.6h0M1003.8 1182.8h0M1334.3 538.9h0M1324.0 472.1h0M1106.4 264.8h0M1034.0 1144.3h0M1670.2 751.7h0M1619.3 693.4h0M1385.3 1002.0h0M1021.6 320.0h0M1048.8 791.7h0M1294.2 494.0h0M806.9 670.1h0M1672.9 434.4h0M1085.7 1121.2h0M868.6 311.4h0M823.8 790.4h0M1050.2 791.1h0M1696.8 420.1h0"/>
<path stroke="#982d80" d="M914.2 328.6h0M1623.5 699.5h0M938.7 1185.0h0M1699.8 328.1h0M1471.8 1100.9h0M1077.4 335.9h0M1063.2 1070.5h0M920.6 1206.6h0M933.2 1196.8h0M1152.5 227.8h0M876.1 736.9h0M932.3 320.0h0M950.1 1186.3h0"/>
<path stroke="#5d177f" d="M1067.4 413.8h0M674.1 993.7h0M696.1 992.2h0M1688.0 348.5h0M1447.3 1071.5h0M882.6 284.2h0M1280.8 490.3h0M944.8 1233.0h0M337.0 780.9h0M1250.4 243.1h0M1064.9 1025.3h0M924.3 1149.8h0M1163.8 215.1h0M1469.7 1115.1h0M1338.3 541.6h0M1112.8 245.0h0M1470.4 1103.1h0M1237.4 242.6h0M819.4 644.3h0M1243.2 238.4h0M1136.0 238.3h0M1393.5 943.7h0M1217.8 244.6h0M1323.9 461.6h0M948.5 1224.4h0"/>
<path stroke="#651b80" d="M1184.0 295.3h0M1117.6 812.0h0M1440.9 1092.3h0M359.2 791.7h0M730.2 1045.2h0M1171.8 287.4h0M1227.5 463.1h0M1435.8 1064.7h0M935.8 1226.5h0M1501.6 1124.3h0M1691.4 318.6h0M718.8 1033.5h0M1019.2 765.2h0M1078.0 793.2h0M1676.2 384.5h0M1087.0 795.9h0M1603.7 669.2h0M1436.7 1095.0h0M804.4 775.0h0"/>
<path stroke="#fc9264" d="M706.3 1042.1h0M418.2 708.2h0"/>
<path stroke="#d3436b" d="M1427.0 1139.7h0M926.5 280.5h0M401.5 707.4h0M1059.0 323.1h0M1698.1 425.7h0M374.4 766.0h0M1062.6 323.7h0M1665.0 426.6h0M1076.8 1047.8h0"/>
<path stroke="#a1307e" d="M1078.7 1066.3h0M937.6 1232.5h0M1293.2 462.5h0M1021.3 776.8h0M1697.3 354.2h0M696.0 1029.7h0M1670.1 774.7h0M808.7 794.8h0M810.8 688.4h0M1426.7 943.2h0M1372.5 920.3h0M1374.7 515.9h0M965.8 1189.1h0M406.2 694.5h0M1309.9 559.8h0M1083.4 1074.6h0M960.8 1214.9h0M1063.8 1046.3h0M930.4 281.7h0M743.9 1032.1h0M1149.9 475.3h0"/>
<path stroke="#da4867" d="M714.0 1062.9h0M1383.1 995.8h0M1398.6 915.3h0M1145.3 464.5h0M1430.5 1118.7h0M1016.5 321.3h0"/>
<path stroke="#e8555d" d="M1030.0 768.5h0M1019.1 762.3h0M1027.9 1202.8h0M1085.9 1087.5h0M947.1 1212.3h0M971.9 1211.9h0M338.9 774.8h0M410.8 682.9h0"/>
<path stroke="#fb8861" d="M1675.4 371.5h0M1092.4 1131.3h0M1443.1 931.0h0M987.1 734.9h0M916.2 1113.6h0"/>
<path stroke="#ee5d5c" d="M1699.8 317.4h0M965.8 1212.6h0M962.9 1171.4h0M1704.6 317.2h0"/>
<path stroke="#f2655c" d="M885.3 1135.2h0M1020.3 1156.5h0M1321.8 481.8h0M895.6 772.9h0M962.3 1150.9h0M1075.9 1069.1h0M1011.3 764.9h0M1683.9 401.2h0"/>
<path stroke="#fec88c" d="M1042.7 428.7h0"/>
<path stroke="#f97f5e" d="M965.3 344.2h0"/>
<path stroke="#feb47b" d="M905.7 767.9h0"/>
<path stroke="#000004" d="M1094.0 333.3h0M340.3 772.0h0M1211.7 458.6h0M1644.9 771.6h0M1161.4 270.7h0M1222.3 462.7h0M1335.6 514.4h0M1143.3 345.3h0M1429.3 1110.8h0M1156.3 447.2h0M1402.2 993.8h0M1093.3 327.3h0M1415.7 1133.9h0M1329.5 537.0h0M892.7 771.0h0M674.7 472.0h0M1430.3 1136.9h0M680.0 466.0h0M926.9 1206.7h0M1276.1 465.4h0M1379.1 914.4h0M664.0 454.7h0M1137.3 208.2h0M1412.0 1002.8h0M660.7 452.0h0M1129.0 351.2h0M1059.3 404.2h0M1092.0 1096.0h0M1175.8 296.2h0M1125.2 210.4h0M1480.9 1112.5h0M686.7 993.0h0M1410.2 1015.7h0M643.8 978.4h0M1137.9 249.9h0M885.8 789.6h0M1124.7 247.0h0M1185.6 226.4h0M1435.3 1053.8h0M1344.7 493.4h0M994.7 1179.3h0M1164.0 240.6h0M1144.1 240.0h0M1047.1 417.1h0M1031.4 329.8h0M673.1 1028.0h0M1051.2 327.9h0M1147.9 208.2h0M720.6 1056.2h0"/>
<path stroke="#d3436b" d="M1053.2 312.7h0M1092.7 1098.8h0M916.7 750.2h0M947.1 342.1h0M890.5 768.4h0M972.6 1138.9h0M924.5 301.1h0M942.5 1196.7h0M1054.5 345.6h0M726.4 1033.7h0M1060.2 1172.2h0M975.8 1145.1h0M1054.1 788.3h0M997.5 312.5h0"/>
<path stroke="#982d80" d="M1299.0 504.5h0M822.0 791.1h0M946.1 313.9h0M1256.0 497.3h0M1080.4 1077.0h0M1365.5 986.2h0M877.2 302.5h0M1290.0 497.8h0M1171.4 301.5h0M1152.4 211.9h0"/>
<path stroke="#a1307e" d="M1456.9 1056.5h0M1379.8 990.1h0M1670.4 400.8h0M1136.8 212.0h0M1415.5 989.1h0M1312.1 494.5h0M1067.0 1059.3h0M960.9 1225.2h0M1404.6 932.1h0M1682.9 409.7h0M863.3 625.6h0M964.0 331.3h0M339.8 785.8h0"/>
<path stroke="#651b80" d="M910.2 330.2h0M929.7 329.7h0M984.9 1189.8h0M1224.4 464.0h0M1164.3 440.3h0M876.1 310.9h0M917.7 311.4h0M1292.9 453.8h0M1064.1 397.5h0M1074.0 332.2h0M920.4 346.5h0M674.0 488.0h0M1071.7 791.4h0M1065.4 413.4h0M1140.0 227.6h0M675.3 482.0h0M1173.7 269.5h0M672.0 489.3h0M1305.5 524.7h0M864.3 679.7h0M1686.9 337.7h0M1059.6 310.9h0M1395.2 928.1h0M1300.7 506.3h0"/>
<path stroke="#55147d" d="M822.0 685.5h0M1438.6 1086.6h0M1063.6 336.7h0M1176.1 224.5h0M885.9 1139.2h0M1490.7 1124.2h0M989.0 716.0h0M1206.0 256.7h0M1146.9 460.6h0M965.1 299.7h0M972.1 323.3h0M1431.2 922.2h0M1460.4 1097.8h0M1480.7 1101.4h0M866.6 746.0h0M1389.9 484.4h0M732.5 1034.0h0M1221.8 241.0h0M986.4 728.8h0M1057.8 1056.9h0M1648.0 776.2h0M1094.8 288.3h0M1664.6 390.6h0M1145.7 435.7h0"/>
<path stroke="#a9337d" d="M1362.3 956.3h0M1241.2 465.7h0M1381.8 931.8h0M1048.1 1199.0h0M1054.1 1196.7h0M965.5 1175.3h0M700.0 1049.3h0M1090.2 306.0h0M1058.0 1053.3h0M889.9 737.4h0M1699.6 317.0h0M1680.2 392.1h0M995.4 1204.5h0M1129.3 336.0h0M1466.9 1064.8h0M1022.3 785.7h0M1096.9 1124.7h0M835.9 757.2h0M1162.2 213.8h0M1378.9 921.6h0M1355.4 564.7h0M1160.7 477.1h0M1389.2 1008.6h0M1185.9 277.8h0"/>
<path stroke="#5d177f" d="M1189.3 271.8h0M1377.2 993.0h0M893.0 1137.6h0M1151.4 313.9h0M1135.3 255.3h0M1327.8 547.7h0M951.6 329.2h0M1176.3 487.1h0M1167.8 223.1h0M1080.0 794.6h0M810.9 789.7h0M1407.4 938.4h0M907.0 340.8h0M1648.1 773.1h0M810.5 794.6h0M1107.4 807.3h0M880.5 294.5h0M1060.6 352.3h0M1050.4 1051.6h0M1662.6 767.9h0M1141.9 209.7h0M1690.0 337.7h0M1378.3 491.3h0M1317.6 557.5h0M1632.7 708.8h0M689.3 1047.6h0"/>
<path stroke="#f2655c" d="M349.9 777.1h0M1334.3 569.2h0M926.9 1224.4h0"/>
<path stroke="#e8555d" d="M428.6 699.3h0M1343.0 578.8h0M945.4 1210.6h0M1673.2 765.8h0M898.1 776.9h0"/>
<path stroke="#ee5d5c" d="M880.7 301.6h0M1010.5 775.1h0M811.4 676.3h0M1328.1 468.8h0M1057.3 351.1h0"/>
<path stroke="#da4867" d="M1419.9 931.6h0M811.9 678.2h0M924.3 1142.5h0M1111.4 251.8h0M971.2 1238.7h0M1041.1 1040.4h0M1372.3 935.6h0M1673.9 330.4h0M1683.4 299.0h0M1690.5 433.5h0"/>
<path stroke="#cc406f" d="M1055.8 1047.7h0M1670.0 364.5h0M928.2 1128.8h0M978.3 304.1h0M928.2 1157.7h0M1046.4 1091.6h0M942.9 1248.0h0M733.1 1047.5h0M1643.5 784.8h0M1429.9 925.9h0M1049.8 1177.9h0"/>
<path stroke="#fc9264" d="M911.9 768.0h0"/>
<path stroke="#feb47b" d="M421.0 689.0h0"/>
<path stroke="#da4867" d="M1667.3 770.8h0M916.4 754.8h0M969.3 1230.3h0M1055.2 1169.4h0M735.7 1041.8h0M1072.5 1080.2h0M1452.4 1064.3h0M1665.5 766.3h0M1108.2 260.8h0M808.3 791.2h0M1169.0 302.3h0M1016.1 1158.8h0"/>
<path stroke="#fc9264" d="M425.9 696.8h0M1029.1 1152.2h0M1701.0 361.0h0M1074.3 1050.4h0"/>
<path stroke="#d3436b" d="M1078.6 1045.5h0M375.4 760.3h0M1052.7 1182.6h0M1007.2 324.3h0M1091.7 1072.4h0M874.5 291.6h0M1053.0 329.7h0M876.7 747.9h0M1062.9 788.5h0M968.9 1205.9h0M934.2 1213.9h0M1024.2 1195.0h0M1292.9 472.1h0M822.6 765.3h0M1073.1 406.0h0"/>
<path stroke="#651b80" d="M1062.4 318.4h0M1299.3 459.7h0M1486.1 1138.1h0M1013.7 323.2h0M739.5 1023.9h0M936.1 297.1h0M1098.1 278.2h0M1383.2 955.2h0M673.3 461.3h0M1138.5 205.1h0M1311.2 477.0h0M1441.1 1151.5h0M843.4 633.9h0M878.4 342.6h0M1003.7 326.5h0M1069.6 311.3h0M1045.5 1058.4h0M1139.2 224.6h0M709.5 1033.5h0M638.8 981.4h0M1083.9 300.7h0"/>
<path stroke="#a9337d" d="M1662.8 426.9h0M1115.1 221.9h0M675.8 993.4h0M832.7 675.1h0M1387.6 549.1h0M1268.7 460.4h0M1178.3 255.2h0M1055.9 1194.4h0M683.2 1027.2h0M1674.7 435.7h0M1422.4 1120.9h0M1057.3 1021.7h0M914.7 1144.1h0M809.9 766.4h0M1378.8 494.6h0M957.6 334.4h0M827.4 794.0h0M847.7 791.1h0M1049.0 1016.3h0M1702.5 345.5h0M1002.5 335.4h0M1423.8 919.7h0"/>
<path stroke="#55147d" d="M816.3 665.4h0M927.2 329.2h0M999.0 752.7h0M827.5 791.7h0M1651.5 741.7h0M836.6 673.0h0M1491.8 1126.8h0M1617.4 691.9h0M1052.8 1101.3h0M1130.1 348.1h0M1132.7 413.3h0M1116.1 1148.2h0M1124.3 817.4h0M919.8 1116.8h0M1300.6 453.8h0"/>
<path stroke="#5d177f" d="M1163.8 295.6h0M1089.5 287.7h0M1454.2 1080.0h0M1205.6 234.4h0M1655.3 734.0h0M1099.0 1117.7h0M1105.6 803.9h0M929.5 304.5h0M1326.3 567.8h0M1629.3 706.9h0M1395.4 910.9h0M1672.3 346.6h0M1661.2 732.9h0M1144.6 318.9h0M1046.4 1072.4h0M840.5 760.2h0M956.8 1188.0h0M1335.9 560.5h0M1056.7 311.7h0M1186.0 270.4h0M1156.2 451.0h0"/>
<path stroke="#000004" d="M1673.5 359.7h0M1361.2 950.9h0M1077.4 314.9h0M1177.4 222.9h0M1131.7 243.7h0M944.3 1152.8h0M1586.6 650.7h0M801.2 776.9h0M1003.7 295.6h0M1227.6 234.6h0M1065.5 407.4h0M1686.7 352.3h0M1388.9 939.9h0M1071.0 1067.8h0M1497.1 1110.5h0M664.9 984.0h0M1130.7 408.3h0M1659.6 783.6h0M1194.3 452.9h0M1001.0 1196.8h0M1150.2 328.9h0M1344.3 538.0h0M1195.1 489.9h0M1302.3 523.8h0M862.3 301.0h0M1394.5 923.8h0M1605.5 672.9h0M1396.8 925.6h0M1477.4 1128.6h0M1137.0 296.7h0M1589.2 653.5h0M1238.9 233.0h0M1043.3 1173.6h0M1256.5 478.6h0M801.1 771.9h0M1141.3 236.7h0M1439.3 1113.7h0M1315.3 515.2h0M1431.0 923.8h0M833.6 639.2h0M1438.4 1079.0h0M998.8 751.2h0M1273.1 506.2h0M1075.6 1071.1h0M682.0 1034.1h0M1180.2 285.3h0M1378.3 475.2h0M1026.0 337.0h0"/>
<path stroke="#982d80" d="M1100.4 1148.4h0M1331.2 590.8h0M1471.0 1123.9h0M1352.8 516.0h0M1312.5 552.7h0M1013.0 315.5h0M1058.8 1167.1h0M910.6 766.4h0M1139.0 353.8h0M356.1 779.3h0M982.8 727.0h0M826.0 665.4h0M944.4 299.4h0"/>
<path stroke="#fb8861" d="M1078.5 1050.8h0M643.9 995.1h0"/>
<path stroke="#a1307e" d="M437.7 674.0h0M1321.5 551.9h0M1330.9 495.0h0M1039.7 312.4h0M906.4 735.0h0M1027.8 305.8h0M1684.1 405.9h0M803.5 680.7h0M1352.7 557.0h0M1694.2 402.7h0M1158.3 297.4h0M702.1 1035.1h0M1133.6 462.2h0M998.6 330.7h0M1684.6 337.6h0M1140.1 480.0h0"/>
<path stroke="#ee5d5c" d="M931.3 1227.7h0M947.5 757.7h0M1014.2 765.2h0M910.9 340.6h0M957.8 1223.8h0M1670.0 397.4h0M959.5 1173.1h0"/>
<path stroke="#e8555d" d="M934.0 1217.6h0M1010.9 768.4h0M625.2 980.3h0M720.4 1053.1h0M355.2 786.3h0M978.7 1192.5h0"/>
<path stroke="#cc406f" d="M879.7 737.8h0M1173.3 281.5h0M850.9 642.5h0M1373.0 939.9h0M804.7 686.2h0M1016.0 782.9h0M963.7 1182.9h0M709.1 1051.5h0M833.7 668.4h0M1346.5 532.0h0"/>
<path stroke="#febe83" d="M441.1 668.9h0"/>
<path stroke="#f97f5e" d="M648.6 977.9h0"/>
<path stroke="#f2655c" d="M873.0 789.6h0M628.9 971.9h0M852.3 717.3h0"/>
<path stroke="#fde0a3" d="M410.0 696.1h0"/>
<path stroke="#feb47b" d="M426.4 705.4h0"/>
<path stroke="#fec88c" d="M411.3 689.3h0"/>
<path stroke="#55147d" d="M892.8 285.3h0M1054.4 341.6h0M1390.0 932.4h0M1069.6 1154.8h0M1300.1 447.4h0M1103.2 805.9h0M1689.9 416.5h0M1454.0 1114.4h0M794.2 773.4h0M1475.4 1098.3h0M1012.9 761.4h0M832.9 630.3h0M1050.3 321.6h0M910.4 290.3h0M1113.1 807.5h0M855.7 637.8h0M1662.4 314.2h0M1028.2 1165.2h0M1102.0 310.7h0M1081.5 1146.4h0"/>
<path stroke="#a9337d" d="M1676.6 747.6h0M1078.7 376.3h0M1607.2 673.0h0M1304.5 495.5h0M672.1 986.2h0M1388.0 525.0h0M682.6 1025.7h0M1691.5 441.7h0M889.6 762.6h0M901.6 788.2h0M1054.2 1137.7h0M865.3 621.9h0M1354.2 549.3h0M1296.1 481.0h0M1132.9 211.5h0"/>
<path stroke="#cc406f" d="M1483.9 1109.7h0M1687.0 323.0h0M975.3 1160.8h0M1698.3 380.0h0M1026.1 320.3h0M1477.5 1083.3h0M1668.6 747.7h0M1672.5 752.3h0M1051.7 1185.1h0M1058.9 1180.3h0M1126.0 378.3h0M1300.8 487.7h0"/>
<path stroke="#982d80" d="M971.0 1189.6h0M1121.2 244.5h0M1322.7 525.9h0M1084.2 1070.9h0M949.4 1250.6h0M1116.8 1150.8h0M1285.6 496.3h0M682.2 993.0h0M1459.1 1131.5h0M1687.7 434.8h0M1072.2 1126.6h0M819.8 788.0h0M1153.0 217.6h0M1172.5 259.2h0M1170.7 292.4h0"/>
<path stroke="#000004" d="M1365.5 937.6h0M672.7 1025.2h0M1153.5 310.9h0M687.8 1027.6h0M1436.7 1081.7h0M1147.0 317.1h0M1662.6 407.5h0M1282.0 453.4h0M1658.0 769.1h0M1251.0 487.1h0M1281.5 462.4h0M1140.0 308.1h0M1215.5 460.3h0M1143.9 237.3h0M1118.8 250.8h0M1166.1 303.0h0M1287.0 508.5h0M974.1 1153.3h0M1671.7 352.8h0M1129.5 223.5h0M1122.3 218.7h0M1166.9 266.6h0M1414.9 919.7h0M1109.3 265.9h0M1157.4 247.6h0M1361.9 927.8h0M1381.0 995.2h0M703.6 1049.4h0M1365.1 955.2h0M915.3 345.8h0M1147.1 337.3h0M607.9 992.0h0M1152.0 428.0h0M1005.2 1145.0h0M1307.2 524.9h0M1400.3 928.8h0M898.5 330.3h0M1111.7 239.4h0M1409.3 974.1h0M693.5 1048.2h0M1165.9 227.5h0M1418.6 989.8h0M1666.8 762.4h0M1361.8 532.6h0M1656.0 754.8h0M1137.0 247.2h0M1075.6 1118.6h0M1364.0 536.7h0M1411.6 938.6h0M1140.0 420.7h0M1125.4 222.4h0M1332.5 515.4h0M1246.3 244.7h0"/>
<path stroke="#5d177f" d="M1014.6 311.0h0M910.1 292.5h0M1473.2 1112.8h0M1052.4 332.3h0M925.0 1146.1h0M1385.7 913.8h0M1200.7 280.8h0M992.0 727.8h0M910.7 294.6h0M669.3 487.3h0M1065.4 395.2h0M1452.4 1137.0h0M921.8 317.5h0M1316.1 526.2h0M957.2 1147.5h0M1122.5 1159.3h0M1162.1 251.8h0M1329.9 496.9h0M675.5 1034.6h0M1479.4 1099.8h0"/>
<path stroke="#f2655c" d="M1040.8 1196.8h0M1675.7 767.3h0M1017.4 1170.5h0M906.8 773.0h0M910.2 774.6h0M1348.3 544.8h0M919.0 757.1h0"/>
<path stroke="#da4867" d="M1371.0 482.2h0M1315.6 541.5h0M845.5 649.6h0M952.9 1196.2h0M373.1 764.1h0M1114.0 308.0h0M1672.1 432.3h0M968.7 738.9h0M1040.1 1191.2h0M1332.6 474.3h0M1034.9 312.5h0M905.5 778.9h0M695.4 1053.6h0M1024.7 309.3h0M1181.9 258.5h0M1040.7 305.5h0M1071.7 402.5h0"/>
<path stroke="#a1307e" d="M1255.8 494.1h0M1214.3 250.6h0M1095.3 319.3h0M1057.2 415.8h0M1144.3 316.6h0M1020.4 772.9h0M1367.8 518.1h0M1693.4 439.4h0M1620.7 696.6h0M421.2 693.1h0M1125.3 1155.6h0M921.6 337.2h0M1663.5 397.1h0M909.5 283.1h0M888.0 738.2h0M969.8 1226.0h0M1447.9 1091.7h0M1135.6 408.0h0M966.8 1234.3h0M1369.6 988.7h0M1304.4 484.1h0"/>
<path stroke="#fc9264" d="M1135.6 1156.4h0M910.7 770.8h0"/>
<path stroke="#ee5d5c" d="M964.1 1206.1h0M1698.6 387.3h0M945.0 1228.5h0M1088.4 1071.1h0"/>
<path stroke="#651b80" d="M1419.5 1027.4h0M1318.7 497.7h0M879.9 312.7h0M1384.3 915.6h0M677.3 494.0h0M1356.7 515.0h0M916.8 1144.6h0M1449.2 1136.3h0M994.8 339.5h0M950.8 335.8h0M1666.3 311.3h0M1142.4 484.1h0M1076.2 1036.0h0M1704.4 335.0h0M1016.5 784.9h0M1460.3 1064.4h0M818.0 649.2h0M971.4 1165.1h0"/>
<path stroke="#d3436b" d="M1410.1 929.1h0M987.3 734.3h0M1043.2 1178.6h0M1046.5 1180.7h0M1065.3 389.1h0M920.6 756.4h0M1078.0 1100.2h0"/>
<path stroke="#febe83" d="M404.1 683.2h0"/>
<path stroke="#e8555d" d="M1681.3 339.1h0M1362.4 572.1h0M961.5 1142.0h0M1369.0 923.4h0"/>
<path stroke="#fb8861" d="M907.4 795.4h0M1697.8 315.8h0"/>
<path stroke="#fec88c" d="M1404.0 985.7h0"/>
<path stroke="#f97f5e" d="M980.1 325.8h0"/>
<path stroke="#d3436b" d="M1054.6 1180.5h0M915.7 750.7h0M945.1 759.0h0M1060.6 791.2h0M1072.1 792.9h0M1663.3 330.7h0M1697.9 362.2h0"/>
<path stroke="#da4867" d="M1346.0 495.2h0M1673.6 771.3h0M963.1 287.0h0M926.5 1198.7h0M1017.2 762.0h0M1400.1 941.4h0M1013.1 770.7h0M1693.8 412.4h0M923.0 1202.3h0M340.4 778.7h0M888.4 764.9h0"/>
<path stroke="#cc406f" d="M1388.5 1006.0h0M1013.4 1167.9h0M417.3 708.0h0M942.3 1170.3h0M338.5 780.2h0M1112.8 318.9h0M962.8 1196.4h0M1410.6 933.6h0M988.5 743.3h0M1264.7 463.3h0M1139.8 336.6h0"/>
<path stroke="#000004" d="M962.7 1159.6h0M788.1 770.3h0M1083.2 297.1h0M802.4 685.0h0M1320.0 537.6h0M1161.1 268.7h0M1135.3 235.0h0M1138.9 1154.7h0M972.6 1157.7h0M1406.6 985.0h0M1377.9 947.9h0M1311.0 535.7h0M656.3 974.1h0M1383.0 951.5h0M1400.1 1008.7h0M950.1 297.9h0M1229.8 487.2h0M1358.8 481.6h0M1364.8 957.7h0M1373.6 928.8h0M1667.9 365.3h0M1119.1 215.6h0M1163.0 299.8h0M1388.8 986.4h0M1700.2 358.2h0M1489.0 1137.3h0M1248.6 443.6h0M1044.4 341.0h0M1652.4 755.3h0M351.3 773.0h0M896.8 1136.0h0M1098.6 329.9h0M1637.9 768.1h0M1143.8 211.4h0M1404.1 1007.0h0M1609.6 666.9h0M1660.9 319.7h0M1493.7 1116.6h0M639.0 964.4h0M662.4 1004.2h0M1175.0 436.4h0M1322.3 557.3h0M1123.8 245.2h0M1084.5 317.0h0M1706.8 332.2h0M1289.1 504.8h0M1662.7 749.5h0M916.3 299.4h0M1086.7 403.3h0M1135.5 305.0h0M1651.2 784.2h0M1363.4 477.2h0M1661.3 750.4h0M1269.7 475.8h0M1075.9 1078.4h0"/>
<path stroke="#5d177f" d="M891.5 290.9h0M666.7 460.7h0M1073.8 1122.7h0M1613.8 685.6h0M1341.4 478.7h0M1011.8 339.0h0M1217.3 249.0h0M627.9 966.5h0M1467.3 1115.4h0M1119.0 229.7h0M955.4 1145.8h0M1049.3 1101.6h0M1056.9 305.9h0M1092.0 1118.7h0"/>
<path stroke="#ee5d5c" d="M434.9 693.3h0M1056.3 1171.8h0M1667.7 416.6h0M1683.0 390.4h0M894.4 740.2h0"/>
<path stroke="#651b80" d="M1011.9 1154.6h0M1138.0 232.4h0M1049.0 425.0h0M1252.6 238.0h0M1122.9 1154.3h0M921.9 352.4h0M911.1 323.3h0M1189.8 488.2h0M1643.0 740.4h0M962.6 341.3h0M1453.6 1049.6h0M959.9 321.9h0M1436.9 1090.6h0M1478.4 1104.0h0M708.0 1059.1h0M934.4 340.0h0M903.3 345.9h0M1003.6 759.2h0M1285.9 475.6h0M1123.2 816.7h0"/>
<path stroke="#982d80" d="M984.9 1194.0h0M1260.7 451.0h0M1502.0 1126.9h0M916.1 328.2h0M1420.5 988.1h0M950.8 333.4h0M1342.5 466.5h0M815.5 689.0h0M1377.4 923.8h0M868.6 329.9h0M1131.9 353.8h0M864.5 305.6h0M903.2 737.7h0M988.7 335.0h0M886.1 294.7h0M1073.5 1129.3h0M1232.6 484.1h0M1369.0 549.3h0M1667.3 332.4h0M1377.6 915.8h0M1267.5 492.3h0M334.5 778.0h0M1162.9 291.4h0M1703.4 362.6h0M932.7 1230.8h0M1329.7 587.6h0M913.2 1142.0h0M1463.9 1145.5h0M1689.9 436.3h0M1378.7 953.7h0"/>
<path stroke="#a1307e" d="M894.6 777.1h0M1057.3 1037.7h0M1655.4 776.6h0M992.9 710.5h0M1636.9 797.0h0M897.5 778.4h0M1401.5 921.0h0M835.5 662.3h0M1026.6 307.4h0M958.3 1203.4h0M942.8 1155.6h0M949.4 1211.4h0M1358.2 952.5h0M1087.3 367.3h0M822.4 655.8h0M819.5 672.5h0"/>
<path stroke="#55147d" d="M895.2 1129.3h0M1112.2 248.6h0M1141.3 216.3h0M1393.8 1015.3h0M952.2 316.5h0M1134.3 209.6h0M1069.4 309.3h0M1209.6 234.1h0M1157.6 442.5h0M1108.0 314.8h0M1458.4 1073.3h0M1615.1 686.4h0M717.4 1027.8h0M1242.0 247.7h0M831.8 793.4h0M944.2 344.3h0M1137.0 217.5h0M1444.2 1070.2h0M1699.9 420.1h0M310.1 759.8h0M1378.2 540.9h0M981.5 321.6h0M1193.1 268.6h0M1435.3 1086.9h0M960.3 295.5h0M1182.0 283.2h0M1613.9 688.0h0"/>
<path stroke="#a9337d" d="M1449.2 1129.8h0M908.4 738.5h0M1301.0 518.2h0M1050.9 1039.7h0M1004.1 333.5h0M1334.0 505.3h0M835.4 636.2h0M887.4 740.8h0M1637.7 786.9h0M1472.4 1105.3h0M939.9 1187.4h0M314.3 762.8h0M1687.7 394.9h0M1015.0 322.4h0M1301.4 537.4h0M896.5 279.1h0M1018.6 302.7h0M880.1 749.2h0"/>
<path stroke="#f2655c" d="M847.8 632.4h0M1105.4 1149.6h0M1134.7 311.6h0"/>
<path stroke="#e8555d" d="M1368.4 510.8h0"/>
<path stroke="#f97f5e" d="M648.0 972.8h0"/>
<path stroke="#fc9264" d="M422.7 690.3h0"/>
<path stroke="#fc9264" d="M694.0 1029.6h0M1079.5 1063.8h0M993.7 742.9h0"/>
<path stroke="#000004" d="M1351.0 509.5h0M1261.2 502.7h0M837.6 666.1h0M918.0 742.3h0M1020.3 302.4h0M1115.9 236.5h0M1133.6 247.2h0M1686.5 422.1h0M1161.4 305.6h0M1656.3 765.8h0M1431.5 1075.2h0M1146.1 339.2h0M363.6 787.3h0M1191.3 230.9h0M1102.0 273.7h0M1048.5 315.7h0M1037.3 1150.0h0M1391.1 935.1h0M1035.5 1157.3h0M1650.3 759.7h0M1153.3 315.0h0M1073.3 1076.6h0M945.2 303.6h0M1031.9 316.2h0M745.0 1036.8h0M1044.7 306.4h0M1256.4 500.8h0M1143.9 343.3h0M1133.2 230.0h0M1398.7 1001.3h0M1157.8 448.3h0M678.2 991.9h0M1060.5 327.6h0M1142.5 335.3h0M1686.9 300.4h0M882.5 297.7h0M1077.4 327.2h0M1315.1 529.5h0M1664.0 735.9h0M857.4 631.4h0M1310.9 452.3h0M930.5 1162.0h0M1042.3 1075.7h0M1320.0 524.0h0M1453.2 1085.4h0M1070.6 342.5h0M1163.2 218.0h0M1300.0 499.9h0M984.2 1176.1h0M1649.0 779.0h0M1080.1 325.9h0M1449.3 1098.7h0M1483.7 1133.4h0M1334.4 552.2h0M1308.6 456.2h0M1350.8 546.3h0M672.4 1016.0h0M1166.0 244.8h0M1647.6 733.3h0M1111.8 1154.8h0M1138.4 357.8h0M1141.5 486.3h0M1317.2 565.0h0"/>
<path stroke="#982d80" d="M1248.1 236.7h0M1043.1 1052.2h0M1385.4 985.4h0M1274.6 493.1h0M1412.9 936.2h0M1348.0 574.2h0M841.9 658.8h0M1120.8 219.8h0M1334.6 587.9h0M808.7 659.1h0M1061.4 1064.1h0M1681.0 361.8h0M426.2 694.7h0M1677.0 348.4h0M1145.2 1164.0h0M1034.4 1182.3h0M1032.9 1162.5h0M1051.9 787.4h0"/>
<path stroke="#a1307e" d="M1634.5 784.8h0M805.7 792.8h0M1678.2 305.6h0M955.5 1180.9h0M858.0 792.7h0M1120.5 1147.4h0M807.2 787.6h0M678.0 1024.7h0M963.0 1223.0h0M1301.9 493.8h0M897.2 789.8h0M1696.3 350.4h0M1155.1 271.6h0M1678.5 411.8h0M958.5 746.7h0M974.1 330.5h0M974.3 1196.7h0M1672.0 342.3h0M1038.0 1034.2h0"/>
<path stroke="#55147d" d="M1676.8 337.0h0M1500.3 1114.4h0M1168.6 259.0h0M992.5 322.7h0M670.7 480.7h0M1440.7 1145.0h0M1234.6 239.6h0M1661.1 412.6h0M1396.2 996.2h0M1377.9 1006.7h0M1119.0 226.5h0M1104.9 248.0h0M661.7 476.7h0M944.3 760.7h0M692.6 991.8h0M1375.4 480.2h0"/>
<path stroke="#fb8861" d="M410.0 692.9h0M1023.6 1156.8h0M1012.7 1148.2h0M1042.8 1159.6h0"/>
<path stroke="#a9337d" d="M1375.5 502.4h0M907.1 737.2h0M1373.9 522.6h0M1595.6 658.2h0M1143.8 234.1h0M1016.1 772.6h0M1369.8 977.8h0M961.8 1155.5h0M798.5 780.7h0M1052.5 419.7h0M729.6 1035.3h0M967.2 1156.7h0M1013.2 1161.8h0M914.4 765.7h0M1374.6 542.4h0M679.0 474.0h0M1378.3 945.6h0"/>
<path stroke="#5d177f" d="M1483.4 1087.8h0M1271.1 465.8h0M1433.8 1097.5h0M1425.0 1112.4h0M832.4 633.6h0M1191.7 487.8h0M969.5 330.2h0M1287.0 477.5h0M1462.1 1103.2h0M951.8 1151.8h0M1330.8 581.2h0M1497.4 1135.0h0M1363.5 469.2h0M1663.3 739.6h0M1029.0 328.3h0M1676.6 365.6h0M1670.1 388.6h0"/>
<path stroke="#f2655c" d="M959.6 742.7h0M1304.8 464.4h0M1126.3 1152.4h0M832.7 641.2h0M661.0 977.9h0M1675.9 764.1h0M939.8 1246.1h0"/>
<path stroke="#d3436b" d="M1164.0 289.4h0M912.1 749.3h0M1055.8 1183.2h0M1069.7 1079.5h0M1705.3 358.0h0"/>
<path stroke="#da4867" d="M1366.9 983.7h0M1009.6 330.0h0M1434.8 1059.8h0M1674.5 751.1h0M1360.0 963.5h0M1057.6 787.4h0M1686.0 301.3h0M1089.5 1069.2h0M1420.6 1138.5h0"/>
<path stroke="#651b80" d="M800.6 790.1h0M1698.1 306.5h0M1044.4 326.7h0M1109.5 247.2h0M1051.5 316.4h0M1660.3 767.8h0M1139.2 229.5h0M1611.3 666.3h0M1126.0 243.4h0M690.4 1050.5h0M1453.8 1071.9h0M712.6 1049.3h0M1362.3 987.3h0M1143.2 244.0h0M1511.1 1120.8h0M1140.7 341.3h0M1465.4 1070.8h0M1251.0 240.9h0M732.7 1038.5h0"/>
<path stroke="#f97f5e" d="M411.7 687.6h0M1375.6 985.8h0"/>
<path stroke="#cc406f" d="M976.4 294.0h0M1049.6 309.7h0M1154.7 255.7h0M1699.6 313.7h0M888.0 1131.4h0M801.4 789.0h0M943.2 1165.7h0M1066.8 1055.3h0M1142.1 478.7h0M921.5 1204.1h0"/>
<path stroke="#ee5d5c" d="M1125.1 1162.2h0M1045.8 329.2h0M1018.8 788.2h0M935.1 1230.8h0M955.0 1185.1h0M953.3 1188.9h0"/>
<path stroke="#e8555d" d="M906.5 351.5h0M1315.6 511.2h0M881.5 745.8h0M900.3 1138.1h0"/>
<path stroke="#febe83" d="M407.9 684.2h0"/>
<path stroke="#000004" d="M1144.0 304.1h0M1351.1 563.8h0M1663.0 364.9h0M841.0 639.2h0M1250.6 237.6h0M1145.4 213.3h0M1017.5 1147.7h0M928.6 1216.4h0M852.5 665.2h0M1230.1 493.8h0M1123.2 234.7h0M1079.0 1069.5h0M1035.8 317.5h0M1391.2 476.8h0M1656.8 767.8h0M1137.8 1160.8h0M1322.2 581.5h0M835.6 666.1h0M809.6 637.3h0M1251.0 246.2h0M1373.7 945.0h0M907.6 348.5h0M1436.3 1107.4h0M1038.8 332.3h0M937.0 334.2h0M1176.6 278.5h0M1382.9 946.3h0M900.1 288.4h0M1228.5 464.3h0M1103.3 276.6h0M1308.5 526.6h0M1347.9 511.4h0M894.2 752.6h0M960.4 1182.3h0M1395.4 1004.0h0M934.8 1120.4h0M970.6 1171.3h0M1450.8 1079.4h0M1150.7 319.1h0M1170.0 257.1h0M892.7 1128.4h0M1651.6 737.5h0M1037.5 312.7h0M1679.5 371.2h0M1150.2 238.2h0M1138.0 263.3h0M1036.0 350.0h0M1196.7 243.3h0M1385.4 545.4h0M1140.0 420.9h0M1038.2 1145.2h0M406.0 708.6h0M979.2 1181.6h0M1108.9 380.0h0M1130.9 220.1h0M1455.7 1109.2h0M1295.7 522.1h0M1069.3 1053.0h0M646.3 980.1h0M1349.0 466.7h0M930.1 298.7h0M1659.5 754.7h0M835.1 653.2h0M859.8 634.4h0"/>
<path stroke="#5d177f" d="M1335.2 481.5h0M1050.7 313.4h0M1685.5 423.8h0M1468.4 1146.8h0M1126.7 469.8h0M1312.8 559.9h0M974.0 301.7h0M1500.7 1128.8h0M955.9 1192.2h0M924.3 1152.4h0M664.7 458.0h0M1152.8 221.6h0M1387.3 912.0h0M964.8 1200.1h0M1358.2 489.3h0M1382.2 550.8h0M623.6 987.8h0"/>
<path stroke="#cc406f" d="M938.1 1175.1h0M1458.6 1059.7h0M899.5 285.0h0M913.8 750.2h0M1065.4 1076.9h0M1059.1 1176.9h0M635.9 969.6h0M1056.4 1159.2h0M1682.4 416.6h0M1389.8 481.4h0M1070.1 1047.8h0"/>
<path stroke="#d3436b" d="M990.1 747.8h0M1026.4 786.2h0M1635.6 714.0h0M721.0 1037.0h0M908.1 735.7h0M1102.8 280.0h0M691.9 996.4h0M1671.5 768.2h0"/>
<path stroke="#982d80" d="M305.1 755.4h0M819.8 632.6h0M1696.3 384.9h0M1287.4 461.7h0M1662.8 342.9h0M901.6 1101.7h0M721.7 1047.6h0M1678.1 300.8h0M1046.0 789.5h0M963.3 738.7h0M1701.4 325.6h0M1659.9 739.1h0M989.2 736.5h0M1173.4 263.9h0M957.4 288.1h0M1088.2 295.0h0M1367.8 987.0h0M1140.5 456.9h0M922.5 327.5h0M1153.1 293.9h0M1349.2 554.8h0M910.3 1140.7h0"/>
<path stroke="#55147d" d="M1122.3 815.8h0M1494.7 1135.8h0M1216.9 235.5h0M823.6 645.2h0M1463.6 1082.8h0M1136.2 245.0h0M1144.3 225.8h0M936.4 339.2h0M1280.8 478.5h0M912.0 336.0h0M1239.4 236.7h0M1058.9 308.0h0M891.7 298.2h0M1504.7 1124.9h0M1657.0 730.2h0M960.1 318.1h0M1066.6 1042.5h0M985.0 731.6h0M1417.4 987.2h0M1181.1 487.4h0M1376.6 979.7h0M1664.6 358.7h0M925.9 1151.2h0M1115.5 307.2h0M1634.2 711.1h0M1060.3 1031.1h0M902.3 282.6h0M847.7 646.1h0"/>
<path stroke="#fb8861" d="M906.3 764.9h0"/>
<path stroke="#f2655c" d="M642.3 971.7h0M1428.1 1136.2h0M870.7 279.0h0M1674.8 753.2h0M1413.0 922.9h0M930.6 1121.6h0M1311.0 529.3h0"/>
<path stroke="#a9337d" d="M1691.6 298.2h0M1132.0 266.7h0M1691.5 323.9h0M1692.6 384.2h0M991.4 745.8h0M1665.9 316.9h0M1044.2 1192.7h0M1592.7 654.6h0M359.4 786.0h0M1647.1 765.6h0M954.8 1198.7h0M1380.1 521.1h0M1148.9 247.5h0M869.5 302.5h0M951.8 1165.5h0"/>
<path stroke="#651b80" d="M1351.2 521.3h0M824.2 667.5h0M971.7 1194.0h0M1066.1 1061.5h0M1127.3 236.4h0M1314.1 497.7h0M849.1 629.3h0"/>
<path stroke="#a1307e" d="M895.8 284.2h0M1438.1 1105.6h0M1686.8 342.7h0M1222.9 247.1h0M1412.7 985.9h0M1265.4 494.3h0M1003.3 767.3h0M1117.9 219.4h0M1372.4 999.1h0M1024.5 787.6h0M1664.8 753.2h0M932.2 314.7h0M859.6 639.7h0M1042.3 788.5h0M1433.6 927.6h0M1098.7 296.0h0M1015.0 767.8h0M940.5 286.4h0"/>
<path stroke="#feb47b" d="M403.0 684.5h0"/>
<path stroke="#f97f5e" d="M943.0 1212.7h0M945.6 1162.3h0M636.4 969.1h0M423.4 693.9h0M983.4 333.3h0"/>
<path stroke="#da4867" d="M908.8 760.8h0M1696.2 417.5h0M1691.2 402.1h0M1278.4 502.9h0M1469.3 1156.7h0M949.6 1208.4h0M990.9 319.4h0M946.3 1184.0h0M1034.0 1187.7h0"/>
<path stroke="#ee5d5c" d="M972.0 1200.6h0M1346.1 584.4h0"/>
<path stroke="#e8555d" d="M966.3 292.2h0M1316.0 482.6h0M1689.6 301.1h0"/>
<path stroke="#fc9264" d="M623.4 978.5h0"/>
<path stroke="#fde0a3" d="M418.6 709.9h0"/>
<path stroke="#ee5d5c" d="M1006.6 1171.0h0M1063.6 1141.8h0M955.8 1134.2h0M968.6 1187.9h0M1150.7 485.0h0M928.6 1154.8h0"/>
<path stroke="#982d80" d="M1609.2 678.6h0M1668.4 426.8h0M950.2 324.8h0M1699.2 342.9h0M1015.1 770.1h0M349.7 787.0h0M949.0 304.0h0M1661.7 740.4h0M683.5 1032.2h0M1206.7 274.7h0M1326.5 525.3h0M984.3 289.1h0M1056.6 1089.4h0M630.2 988.2h0M357.2 785.7h0M1068.8 1041.0h0M1141.6 319.6h0M1455.5 1064.5h0M1127.0 1165.8h0M1151.4 1162.9h0M1134.7 308.7h0M1345.1 476.8h0M1074.2 1040.8h0"/>
<path stroke="#55147d" d="M1138.2 239.7h0M1358.2 540.0h0M1449.4 1065.6h0M1658.5 734.3h0M1078.8 796.3h0M1463.3 1133.4h0M1123.2 225.4h0M1195.5 284.9h0M891.0 1098.8h0M726.8 1056.2h0M1105.4 805.6h0M1139.2 461.0h0M1673.1 757.7h0M681.9 1014.6h0M1646.4 742.8h0M1448.5 1074.0h0M1124.8 228.0h0M926.1 346.9h0M1457.7 1092.5h0M1370.3 530.1h0M1343.5 542.4h0M719.2 1024.8h0M1135.9 307.0h0M897.4 741.0h0"/>
<path stroke="#e8555d" d="M1360.8 541.9h0M1014.0 782.0h0M1345.5 586.6h0M1671.8 378.4h0M1685.3 390.5h0M959.4 1170.3h0M1033.5 1160.2h0"/>
<path stroke="#651b80" d="M797.4 696.3h0M1157.8 226.8h0M681.9 1045.0h0M657.3 459.3h0M1432.6 1147.2h0M937.8 1236.7h0M1435.5 1057.4h0M1357.0 937.2h0M1387.0 917.4h0M1447.7 1053.4h0M1462.5 1086.0h0M1054.4 416.8h0M1358.9 486.3h0M1058.9 314.5h0M1166.3 270.5h0M1338.5 557.5h0M912.8 1145.5h0M875.1 304.1h0M721.6 1046.0h0M1703.6 355.7h0M945.0 284.3h0M1273.6 490.9h0M1088.7 311.6h0M1160.9 228.0h0M684.7 467.7h0M671.7 463.3h0"/>
<path stroke="#000004" d="M1306.4 451.8h0M1343.9 535.8h0M1159.0 270.9h0M1219.3 262.0h0M1385.5 991.8h0M1146.1 304.9h0M1049.0 348.0h0M1662.2 752.2h0M962.1 1150.0h0M1293.8 448.0h0M1138.8 454.1h0M1423.8 960.6h0M1061.2 314.7h0M1237.8 467.0h0M1607.2 669.3h0M1379.0 931.2h0M1680.8 354.5h0M1037.0 343.0h0M1351.8 462.7h0M1446.6 1064.7h0M1145.9 310.7h0M1040.8 307.6h0M1094.7 285.7h0M1394.5 941.4h0M1659.1 764.8h0M1120.5 251.4h0M1667.8 346.9h0M1133.0 249.6h0M1033.8 320.9h0M616.9 984.8h0M1645.4 786.9h0M1028.7 1175.1h0M952.1 1180.7h0M1701.2 355.0h0M1064.6 325.3h0M1034.6 322.8h0M1118.7 248.8h0M1448.9 1140.4h0M1338.8 487.6h0M1384.6 477.8h0M1318.0 568.8h0M1399.1 979.5h0M1198.4 292.7h0M1341.2 495.4h0M727.1 1045.1h0M1438.9 1070.7h0M1396.5 1002.1h0M1144.7 415.7h0M1646.4 779.9h0"/>
<path stroke="#5d177f" d="M307.0 758.3h0M1096.1 278.3h0M1663.7 733.7h0M1336.8 570.0h0M1042.3 1139.4h0M927.2 321.5h0M1278.0 458.2h0M695.7 995.0h0M951.2 1190.9h0M1041.9 1194.2h0M991.3 719.5h0M1159.2 300.5h0M1302.2 467.0h0M1229.7 497.8h0M967.4 1169.3h0M938.3 1243.0h0M676.4 1027.3h0M796.2 784.4h0M992.4 708.6h0M1124.7 212.4h0M805.0 678.1h0M1106.4 258.7h0"/>
<path stroke="#a9337d" d="M943.5 341.0h0M1151.8 480.6h0M1368.5 990.7h0M1107.6 1149.9h0M988.7 304.9h0M1165.0 435.4h0M1665.6 403.9h0M956.4 348.7h0M1165.6 261.7h0M1468.5 1139.6h0M992.0 721.0h0M1106.8 1152.2h0M1493.3 1128.3h0M1417.1 918.0h0M1634.9 783.2h0M798.9 774.9h0M1108.7 314.0h0M1106.5 1157.3h0M1024.2 306.5h0M1328.5 565.5h0"/>
<path stroke="#f2655c" d="M1020.9 1138.0h0M875.9 747.4h0M1261.1 494.2h0M921.3 294.6h0M956.1 1242.9h0"/>
<path stroke="#da4867" d="M1061.1 1047.9h0M920.7 749.4h0M893.0 294.0h0M896.4 1101.2h0M1024.6 1201.0h0M715.4 1053.3h0M1367.9 954.6h0M1677.3 370.2h0"/>
<path stroke="#d3436b" d="M854.0 750.3h0M1004.4 313.8h0M1455.8 1127.4h0"/>
<path stroke="#cc406f" d="M1439.5 930.5h0M1680.5 408.1h0M922.1 749.7h0M1382.0 1005.4h0M1356.1 972.2h0M299.7 756.0h0M1046.5 1170.5h0M1098.7 282.0h0M1668.0 402.3h0"/>
<path stroke="#a1307e" d="M831.6 790.7h0M1054.7 411.5h0M1632.8 787.0h0M1024.4 765.2h0M836.4 675.7h0M1418.0 982.2h0M948.5 320.1h0M960.3 1152.2h0M1109.6 241.8h0M957.6 1219.9h0M1380.0 917.3h0M1683.2 353.1h0M1078.0 1032.4h0"/>
<path stroke="#fc9264" d="M920.6 753.9h0M630.2 990.1h0"/>
<path stroke="#f97f5e" d="M927.1 1163.7h0M909.9 795.1h0"/>
<path stroke="#fb8861" d="M1250.7 239.3h0"/>
<path stroke="#982d80" d="M1695.3 404.8h0M1103.3 288.0h0M940.4 317.6h0M1009.3 336.1h0M695.3 1043.7h0M362.2 778.9h0M990.8 730.6h0M1457.2 1130.1h0M1067.2 1051.8h0M982.0 286.0h0M1035.7 1194.1h0M1477.8 1144.8h0M667.2 990.1h0M1048.5 307.8h0M1369.5 992.9h0M812.4 638.3h0M1471.9 1115.5h0M1113.2 1149.7h0M1186.6 294.3h0M1327.3 537.2h0"/>
<path stroke="#55147d" d="M1044.4 1155.6h0M1385.2 540.2h0M986.9 732.5h0M1130.6 206.4h0M1090.7 799.6h0M1612.4 683.1h0M1230.0 467.2h0M973.7 1166.1h0M1124.4 815.6h0M657.7 993.0h0M974.4 1187.6h0M670.0 492.0h0M829.8 638.2h0M1070.1 307.2h0M343.5 782.1h0M1085.2 328.7h0M1412.7 920.3h0M1415.8 919.6h0M1125.7 220.3h0M941.4 1184.4h0M1470.4 1152.0h0M1079.0 339.5h0M653.3 991.8h0M1392.6 989.0h0M1685.5 316.8h0"/>
<path stroke="#da4867" d="M1598.3 662.0h0M1053.1 1090.0h0M1642.5 792.6h0M898.6 334.9h0M1675.8 745.4h0M1667.0 766.4h0M1322.1 501.4h0M1046.0 1051.0h0M1029.6 1161.1h0M376.6 762.5h0M912.4 286.6h0M1021.3 789.5h0M1065.9 399.4h0M688.3 993.8h0M873.1 297.3h0"/>
<path stroke="#a9337d" d="M975.6 1155.6h0M895.2 789.5h0M950.8 1231.6h0M915.1 1145.9h0M1488.3 1132.0h0M1065.5 1084.9h0M1688.7 441.8h0M1298.1 526.9h0M1030.9 1195.1h0M951.1 300.0h0M1465.2 1066.9h0"/>
<path stroke="#5d177f" d="M1116.0 812.2h0M1343.9 503.7h0M1150.7 219.6h0M1332.8 584.7h0M1124.8 224.2h0M1026.4 311.0h0M1482.7 1127.6h0M974.8 1190.0h0M1264.6 491.0h0M1085.5 1079.9h0M910.2 302.5h0M1679.3 401.3h0M1117.9 234.0h0M966.0 1219.0h0M925.4 282.5h0M980.9 314.8h0M1067.4 347.7h0M1201.9 282.2h0M1060.7 364.7h0M356.1 783.7h0M1680.0 404.8h0"/>
<path stroke="#d3436b" d="M1666.7 407.4h0M1046.2 792.9h0M711.5 1050.5h0M659.0 455.7h0M1072.2 1045.8h0M1476.3 1078.4h0M1665.3 316.8h0M1107.6 263.1h0M1443.4 928.4h0M873.5 738.5h0M1692.8 423.7h0"/>
<path stroke="#f2655c" d="M1036.4 1154.6h0M1019.8 1165.9h0M965.9 1243.4h0M828.8 630.6h0M1316.3 537.7h0M1670.4 741.5h0M935.5 305.5h0M1029.8 1163.6h0"/>
<path stroke="#651b80" d="M1115.3 232.0h0M1467.9 1117.9h0M1276.4 471.7h0M801.7 778.4h0M1007.9 319.5h0M739.8 1030.2h0M727.8 1051.1h0M1332.7 527.4h0M1063.9 331.8h0M1159.4 217.4h0M1344.6 461.0h0M1136.7 205.9h0M1683.9 359.4h0M1424.5 1033.4h0M1677.3 345.0h0M1128.3 242.8h0M1115.2 250.3h0M1325.8 466.2h0M807.1 786.1h0M1437.4 1120.1h0"/>
<path stroke="#a1307e" d="M1265.1 500.6h0M1042.6 781.9h0M1389.9 916.1h0M1225.2 462.4h0M877.2 742.9h0M1406.8 931.8h0M939.2 1228.5h0M836.4 664.3h0M991.4 336.8h0M1167.6 292.8h0M1259.2 490.2h0M654.0 456.3h0M1644.6 776.2h0M1147.2 1162.7h0M1700.6 432.8h0M1140.9 305.6h0M1162.7 483.2h0M813.8 639.9h0M1697.1 437.7h0"/>
<path stroke="#000004" d="M690.0 997.9h0M1302.7 501.0h0M1431.2 1107.8h0M833.2 671.1h0M1409.7 1000.5h0M910.9 320.7h0M1152.5 265.3h0M1647.9 762.1h0M1225.1 251.3h0M1486.0 1124.6h0M895.5 296.9h0M1279.6 472.3h0M1349.6 572.7h0M1018.3 307.6h0M962.2 1162.4h0M1050.8 323.7h0M1159.4 232.2h0M1389.8 547.0h0M1364.1 510.4h0M897.3 1130.3h0M1090.7 382.9h0M1345.2 550.1h0M930.8 301.3h0M680.0 492.7h0M1045.8 1078.5h0M1686.9 387.2h0M1124.7 239.1h0M629.1 986.8h0M1485.9 1097.7h0M1304.2 536.2h0M1439.5 1133.6h0M1342.6 563.2h0M1134.4 251.7h0M1253.5 489.6h0M1341.8 586.4h0M1142.1 324.9h0M1230.5 496.2h0M1070.3 318.3h0M1455.4 1147.5h0M1118.7 340.7h0M1083.6 289.1h0M1411.8 988.5h0M1104.5 272.8h0M1116.9 227.3h0M1666.8 758.9h0M868.9 734.9h0M662.7 480.7h0M1057.0 1070.7h0M1155.5 250.6h0M1699.3 305.3h0"/>
<path stroke="#cc406f" d="M832.4 796.8h0M843.8 648.2h0M1110.3 307.5h0M1484.5 1123.2h0M1120.1 348.6h0M1040.5 428.3h0M1051.1 422.6h0M1012.5 768.3h0M1374.2 994.3h0"/>
<path stroke="#ee5d5c" d="M1672.4 350.1h0M623.4 995.5h0M1017.1 1189.1h0"/>
<path stroke="#e8555d" d="M842.7 650.1h0M923.4 1197.3h0M1062.4 1169.9h0M1384.8 554.5h0M959.2 1198.6h0"/>
<path stroke="#f97f5e" d="M1032.2 1054.9h0"/>
<path stroke="#fec88c" d="M413.5 687.7h0"/>
<path stroke="#febe83" d="M1230.0 495.7h0"/>
<path stroke="#da4867" d="M898.4 290.1h0M680.0 480.3h0M1381.6 997.1h0M1669.8 367.3h0M1029.7 1147.8h0M904.6 769.3h0M937.2 1201.5h0M939.2 1196.4h0M979.7 1141.0h0M946.1 1222.5h0M1068.1 1077.7h0"/>
<path stroke="#000004" d="M936.8 288.2h0M1374.8 472.2h0M1079.8 1071.8h0M939.5 1171.8h0M1637.6 775.3h0M1434.2 1116.4h0M1005.2 1148.5h0M1136.6 1165.4h0M1141.1 312.8h0M1434.6 1113.4h0M1155.8 304.3h0M1639.8 772.4h0M1136.1 341.9h0M1434.2 1079.3h0M1312.8 487.3h0M1391.4 1001.5h0M821.1 640.7h0M1669.2 405.3h0M1162.6 230.9h0M1103.3 325.0h0M821.5 670.6h0M1475.1 1146.7h0M1151.3 456.6h0M1156.7 290.4h0M1499.7 1119.0h0M1074.7 380.0h0M1349.3 568.1h0M1307.0 466.8h0M1129.8 459.4h0M669.9 1017.1h0M1655.7 746.0h0M355.5 775.3h0M803.3 778.4h0M1056.2 1084.3h0M913.4 749.5h0M735.3 1043.9h0M1653.8 767.9h0M1421.8 1017.6h0M1385.8 942.0h0M1148.2 233.2h0M1127.7 239.8h0M1159.9 212.9h0M1646.8 774.5h0M1597.6 658.4h0M1060.4 410.2h0M1699.9 314.4h0M1049.5 348.0h0M1102.7 330.7h0M1134.0 297.3h0M904.4 342.8h0M1382.4 479.6h0M1649.5 738.7h0M1064.0 381.6h0M1339.2 485.2h0M1428.4 1099.0h0M702.8 993.8h0M1373.6 942.2h0M362.2 781.2h0M911.9 281.2h0M1406.2 914.4h0M1032.1 1167.4h0M1125.3 207.8h0M1661.1 747.6h0M679.9 991.3h0M1385.9 947.5h0M1656.8 750.6h0M1052.1 1059.2h0"/>
<path stroke="#a9337d" d="M1218.7 247.0h0M1372.0 540.5h0M910.4 763.2h0M1310.4 485.8h0M838.2 662.4h0M1515.5 1125.2h0M917.7 325.8h0M1466.9 1092.8h0M982.8 1156.9h0M872.5 744.5h0M956.5 292.5h0M635.5 978.9h0M1104.0 1153.5h0M1142.0 476.3h0M1094.8 1105.1h0M1120.5 1155.7h0M823.1 665.2h0M820.9 795.8h0"/>
<path stroke="#fc9264" d="M633.0 983.3h0"/>
<path stroke="#a1307e" d="M1401.3 934.7h0M868.0 622.3h0M1379.1 535.7h0M1327.5 475.7h0M1692.5 341.7h0M879.9 790.5h0M1373.4 484.3h0M1239.7 242.5h0M1174.6 256.3h0M1359.3 955.4h0M1133.2 1164.6h0M907.0 1107.7h0M865.7 280.1h0M935.4 1125.8h0M1103.4 1156.9h0M1676.5 353.0h0M907.9 317.6h0M669.0 988.0h0M1043.9 306.6h0"/>
<path stroke="#5d177f" d="M711.7 1033.1h0M1132.7 232.1h0M1435.9 1135.4h0M945.3 1147.6h0M1031.4 307.9h0M1662.6 310.5h0M1157.0 265.0h0M678.7 484.7h0M1142.1 451.8h0M1393.1 938.7h0M1050.7 418.3h0M1481.6 1137.5h0M1096.7 800.5h0M1036.5 1163.2h0M1143.4 213.8h0M1011.7 305.9h0M1192.9 295.0h0M669.3 458.7h0M1192.1 288.7h0M1229.7 462.4h0"/>
<path stroke="#cc406f" d="M1018.5 783.8h0M949.2 1160.4h0M977.7 1139.1h0M1664.7 305.6h0M977.4 1154.0h0M895.8 775.3h0M1068.9 1067.8h0M1009.3 1176.0h0M958.1 1233.8h0M1680.1 301.0h0"/>
<path stroke="#d3436b" d="M1386.0 951.3h0M1091.3 352.0h0M935.5 1236.7h0M334.5 774.1h0M1046.3 1176.5h0M900.2 281.3h0M1685.6 414.4h0M882.3 739.1h0M1040.0 431.7h0"/>
<path stroke="#e8555d" d="M1147.3 314.7h0M1704.9 314.1h0M689.1 1042.2h0M1012.6 774.3h0M721.8 1034.8h0"/>
<path stroke="#651b80" d="M705.8 994.7h0M1242.7 234.5h0M926.7 1148.8h0M1191.2 295.7h0M1683.1 364.4h0M1133.8 241.1h0M919.5 350.7h0M1471.9 1075.5h0M1256.4 484.8h0M1216.3 250.7h0M1165.8 256.0h0M1377.2 1002.0h0M1172.9 290.4h0M1137.7 471.0h0M929.6 314.7h0M1074.0 338.3h0M1141.2 229.7h0M1156.1 236.3h0M1419.0 992.4h0M1082.4 1043.9h0M1370.2 553.9h0M1371.4 471.9h0M1654.1 747.1h0M921.1 1199.0h0"/>
<path stroke="#55147d" d="M1455.7 1078.6h0M1667.3 385.4h0M1119.0 239.8h0M1280.1 460.5h0M1046.3 314.3h0M845.5 641.6h0M1434.3 1132.8h0M1206.0 232.4h0M1203.2 286.5h0M1672.7 323.8h0M926.4 349.9h0M1333.2 579.6h0M1222.3 250.6h0M628.3 984.6h0M804.2 789.1h0"/>
<path stroke="#fb8861" d="M916.0 759.6h0"/>
<path stroke="#982d80" d="M312.4 761.4h0M1644.6 733.4h0M934.6 324.5h0M1343.4 568.8h0M1354.0 496.5h0M960.0 349.6h0M1311.8 510.9h0M1133.0 1159.8h0"/>
<path stroke="#f97f5e" d="M1009.4 778.9h0M959.1 1148.1h0M1084.4 1059.8h0M629.0 970.4h0"/>
<path stroke="#ee5d5c" d="M343.7 784.2h0M951.7 1225.3h0M1636.2 793.2h0M1000.7 331.9h0M943.8 1230.4h0M429.1 692.8h0"/>
<path stroke="#f2655c" d="M1674.4 362.3h0M973.4 1204.3h0"/>
<path stroke="#982d80" d="M879.1 277.8h0M1036.4 1055.8h0M1700.4 427.6h0M871.4 284.1h0M1488.1 1097.1h0M1042.9 1029.0h0M1447.9 927.7h0M1125.7 214.0h0M1051.0 412.7h0M869.9 309.3h0M1090.3 797.6h0M986.4 730.8h0M1686.2 406.1h0M985.4 734.9h0"/>
<path stroke="#a1307e" d="M1311.5 558.0h0M1132.7 304.7h0M1468.8 1092.0h0M873.5 308.1h0M1649.3 782.7h0M1370.2 986.6h0M950.4 1162.9h0M972.8 1191.5h0M926.4 333.9h0M1354.8 538.6h0M1014.0 342.0h0M1171.9 296.1h0M297.4 751.1h0M1015.6 301.0h0M633.7 969.8h0M914.2 343.8h0M1698.3 432.5h0M993.3 1137.3h0M1293.3 457.6h0"/>
<path stroke="#a9337d" d="M1663.0 345.2h0M813.5 791.6h0M1129.8 474.5h0M1213.5 255.8h0M1590.9 655.3h0M1661.7 738.4h0M1110.1 807.5h0M1368.9 930.4h0M1703.5 340.9h0M928.2 310.9h0M1620.2 695.2h0M1145.5 221.1h0M1058.2 400.8h0M1154.9 221.6h0M1362.3 492.3h0M1016.9 318.4h0M1414.0 991.0h0"/>
<path stroke="#55147d" d="M1466.7 1131.6h0M952.6 335.0h0M957.6 331.9h0M1171.2 487.0h0M1451.7 1070.4h0M1628.4 704.8h0M1016.1 774.2h0M732.0 1036.2h0M1669.6 300.8h0M958.1 1142.9h0M905.9 783.0h0M1076.5 340.6h0M703.7 1039.8h0M1273.8 495.1h0M1100.7 283.7h0M607.8 989.7h0M1450.1 1057.7h0M1430.5 1146.5h0M935.0 313.2h0M1085.5 1082.3h0M1304.7 524.9h0M1685.3 296.4h0M1031.4 310.4h0M1228.5 485.5h0M877.5 321.8h0M1625.1 698.4h0M728.2 1041.3h0"/>
<path stroke="#000004" d="M616.6 991.7h0M950.5 1245.5h0M1155.1 261.2h0M655.6 1003.9h0M913.3 333.3h0M1126.6 229.3h0M1044.3 1167.3h0M1650.4 757.2h0M1371.6 969.3h0M1397.7 961.5h0M1646.8 746.0h0M824.9 639.9h0M1270.0 507.8h0M1681.7 302.2h0M1489.2 1122.4h0M1370.6 943.8h0M1129.3 252.0h0M1135.3 300.2h0M959.7 1151.2h0M812.1 667.9h0M1374.2 958.1h0M1035.0 339.0h0M948.3 1220.3h0M1152.8 206.5h0M1257.9 476.2h0M1112.1 222.8h0M1691.1 398.7h0M1134.3 227.6h0M441.7 698.0h0M963.3 1165.9h0M1644.3 777.7h0M1049.3 1060.3h0M1654.5 393.9h0M1086.9 797.4h0M723.8 1035.9h0M1377.3 939.5h0M1124.0 330.7h0M1125.9 218.4h0M1087.0 320.4h0M993.9 727.1h0M1000.7 297.0h0M433.2 691.6h0M1662.1 769.3h0M1336.8 547.7h0"/>
<path stroke="#da4867" d="M1140.3 324.2h0M978.0 286.8h0M1663.6 316.5h0M952.9 292.1h0M968.3 308.5h0M865.9 620.4h0M1029.0 1171.5h0M1323.7 496.2h0M1403.3 919.6h0M1031.7 1158.5h0M905.9 301.9h0M1142.3 342.0h0M950.3 753.7h0M969.2 1192.2h0M987.3 307.5h0M1183.6 276.1h0M1689.0 325.9h0"/>
<path stroke="#651b80" d="M835.5 655.8h0M1086.2 294.5h0M1132.9 413.6h0M1031.6 316.8h0M1475.5 1103.0h0M1118.8 813.6h0M1405.9 942.2h0M1221.9 253.5h0M1315.9 552.7h0M1626.4 702.8h0M642.1 986.1h0M1277.6 493.8h0M1398.4 927.9h0M929.5 744.9h0M1170.0 242.5h0M676.0 477.3h0M1472.3 1089.0h0M1151.9 434.3h0M1274.9 485.2h0M1440.2 930.6h0M1013.7 307.1h0M952.2 1139.6h0M941.0 763.3h0M1380.5 553.3h0M1695.7 309.8h0M1232.3 463.5h0"/>
<path stroke="#5d177f" d="M1169.8 299.6h0M876.1 329.0h0M1347.1 528.1h0M734.3 1037.3h0M824.7 650.4h0M724.6 1049.1h0M1430.5 1149.8h0M1371.4 996.2h0M997.9 744.7h0M1455.9 1093.5h0M1655.6 742.4h0M1442.4 1058.0h0M1051.4 416.2h0M666.9 986.9h0M713.0 1026.1h0"/>
<path stroke="#f2655c" d="M1034.5 1167.1h0M1400.6 970.2h0M1363.8 566.0h0M1345.3 574.7h0M1057.5 1153.9h0M1664.2 414.2h0M1382.1 924.9h0"/>
<path stroke="#fb8861" d="M1358.6 948.3h0M706.2 1033.3h0"/>
<path stroke="#d3436b" d="M1076.4 1039.4h0M1037.4 1082.9h0M1130.7 465.7h0M1035.6 1146.8h0M913.4 1126.7h0M686.7 1032.2h0M931.6 1209.0h0M874.5 742.5h0M1075.2 1086.1h0"/>
<path stroke="#e8555d" d="M1402.7 930.7h0M1052.5 1189.9h0M877.9 746.8h0M681.5 1042.6h0M1673.9 743.6h0M1055.9 1150.0h0"/>
<path stroke="#cc406f" d="M375.1 764.0h0M905.0 774.5h0M1104.4 264.5h0M919.1 1210.5h0M1289.2 462.8h0M860.8 788.1h0"/>
<path stroke="#ee5d5c" d="M1052.3 1175.9h0M918.3 749.0h0M1696.4 410.6h0M1026.7 1181.9h0M1680.7 296.8h0M1329.0 585.2h0M1403.7 941.8h0"/>
<path stroke="#f97f5e" d="M915.5 763.1h0M705.3 1031.1h0"/>
<path stroke="#febe83" d="M799.1 690.5h0"/>
<path stroke="#feb47b" d="M413.0 701.0h0"/>
<path stroke="#55147d" d="M1142.0 398.7h0M1188.7 231.4h0M962.7 333.0h0M987.4 288.9h0M1093.3 315.2h0M1061.2 403.1h0M1483.9 1138.9h0M1475.4 1100.4h0M1665.4 754.3h0M1224.8 245.3h0M1156.3 454.9h0M1632.2 711.5h0M692.7 1050.6h0M1344.2 507.5h0M959.7 335.3h0M1649.1 764.5h0M1426.9 1032.7h0M1096.3 802.0h0M1012.1 305.8h0M1368.9 514.3h0M996.8 749.0h0M1023.4 1154.4h0M1380.2 513.7h0M1123.7 472.2h0M1457.0 1052.6h0M706.1 996.5h0M1381.0 953.7h0"/>
<path stroke="#a9337d" d="M819.1 655.4h0M1082.5 309.5h0M1083.1 1079.9h0M873.0 634.5h0M1665.7 335.5h0M1120.4 1143.9h0M658.5 996.9h0M877.7 735.8h0M1127.1 232.3h0M954.7 748.1h0M1228.5 494.4h0M950.1 311.3h0M1081.0 1081.3h0"/>
<path stroke="#000004" d="M1131.9 256.3h0M1310.6 471.5h0M923.4 1224.9h0M1190.6 289.8h0M1227.5 246.4h0M935.4 322.0h0M1307.9 532.5h0M1225.5 234.1h0M1378.8 928.9h0M669.3 984.3h0M1306.7 477.4h0M938.8 324.4h0M876.1 788.4h0M1283.6 485.5h0M1371.9 918.3h0M1302.2 463.4h0M1036.0 350.0h0M1145.7 232.2h0M376.0 759.6h0M672.0 456.0h0M1682.5 302.0h0M1122.5 249.0h0M1254.8 487.8h0M1357.6 494.7h0M910.8 1113.2h0M1352.5 476.6h0M1148.0 277.3h0M947.1 1242.9h0M1134.6 212.0h0M1290.0 514.7h0M1094.5 1138.0h0M1150.2 214.5h0M1109.4 237.8h0M1069.3 386.7h0M1503.4 1130.0h0M1165.5 230.9h0M1367.7 963.5h0M1126.3 234.6h0M1135.2 221.3h0M1124.3 215.9h0M1078.7 406.7h0M998.9 762.7h0M1149.8 311.9h0M1385.1 969.3h0M1668.0 336.7h0M1087.1 1083.5h0M1096.0 377.3h0M1319.9 571.3h0M1310.4 458.7h0M1045.3 1143.6h0M1658.6 744.3h0M1364.6 541.9h0M1461.9 1115.1h0M1171.6 240.3h0M1265.1 497.5h0M1410.8 1004.7h0M711.4 994.6h0"/>
<path stroke="#651b80" d="M1402.6 990.2h0M874.1 341.8h0M1682.3 330.6h0M688.9 996.7h0M1210.6 252.0h0M1344.6 490.3h0M1036.1 304.4h0M677.3 460.0h0M937.5 283.9h0M1039.7 1059.8h0M988.3 729.9h0M1111.9 807.1h0M1189.5 279.2h0M715.9 1050.7h0M937.8 300.6h0M1156.5 230.9h0M1039.1 324.7h0M1191.5 286.7h0"/>
<path stroke="#5d177f" d="M1131.7 227.8h0M676.7 464.7h0M905.5 1105.2h0M1324.6 562.5h0M919.1 344.0h0M1168.1 483.6h0M1679.6 413.6h0M1179.7 291.3h0M1112.8 809.5h0M892.4 296.3h0M1089.1 289.8h0M943.7 291.7h0M1645.5 749.1h0M1222.0 259.2h0M821.5 649.8h0M951.7 1151.1h0M927.2 1145.9h0M1707.5 357.2h0M1154.7 258.1h0M1673.4 403.2h0M1189.2 285.8h0"/>
<path stroke="#a1307e" d="M1293.5 489.0h0M805.9 776.5h0M1376.6 932.7h0M1366.7 470.6h0M1338.3 500.0h0M1366.6 991.9h0M1318.7 461.9h0M1392.7 916.0h0M1066.9 343.5h0M1669.7 338.7h0M1372.6 555.2h0M964.1 1157.3h0M1397.3 982.7h0M815.6 789.7h0M1370.0 919.3h0"/>
<path stroke="#da4867" d="M1042.9 1149.1h0M953.0 1227.5h0M1369.0 927.1h0M1120.5 346.7h0M1675.5 403.4h0M866.9 305.6h0M1042.9 1183.8h0M969.0 1220.5h0M716.3 1046.0h0M1110.5 1153.2h0M641.6 976.3h0M1698.6 310.8h0M818.6 792.4h0"/>
<path stroke="#f2655c" d="M954.6 1222.0h0M919.9 752.4h0M721.8 1050.6h0M1313.6 484.8h0M824.0 792.4h0M910.1 759.5h0M1335.8 534.1h0"/>
<path stroke="#cc406f" d="M1663.5 326.3h0M1067.1 1087.5h0M980.2 736.3h0M919.0 759.0h0M1684.8 443.3h0M1328.0 531.5h0M889.8 346.0h0M1188.0 277.4h0M955.2 1149.2h0M856.7 791.0h0M1408.9 919.5h0"/>
<path stroke="#fc9264" d="M414.1 681.7h0M717.3 1025.1h0"/>
<path stroke="#982d80" d="M1281.8 474.8h0M1217.4 428.6h0M903.5 330.1h0M1153.6 260.0h0M1343.5 547.4h0M1178.0 226.7h0M726.4 1041.2h0M1003.7 338.3h0M365.6 786.9h0M1025.1 1104.1h0M358.6 781.3h0M1345.4 526.1h0M1361.3 935.1h0M1268.7 479.9h0M1167.5 297.9h0M1129.4 456.2h0M1469.3 1136.1h0"/>
<path stroke="#d3436b" d="M961.7 1237.7h0M1416.5 1124.0h0M841.7 666.8h0M984.5 344.9h0M1043.5 1170.5h0M1688.8 315.7h0M1696.6 415.5h0M902.6 790.9h0M1022.8 762.7h0M1681.0 299.3h0"/>
<path stroke="#ee5d5c" d="M1667.1 387.9h0M1392.1 919.5h0M1682.2 307.1h0M1049.3 1092.2h0"/>
<path stroke="#fb8861" d="M416.6 685.6h0"/>
<path stroke="#f97f5e" d="M700.5 1040.5h0"/>
<path stroke="#e8555d" d="M819.8 794.0h0M948.1 1150.1h0M950.9 1222.5h0"/>
<path stroke="#000004" d="M1434.8 926.4h0M1159.7 225.6h0M1473.4 1083.5h0M1223.2 233.9h0M1314.5 491.4h0M1485.2 1112.7h0M1080.8 305.2h0M1469.5 1121.8h0M707.6 1056.8h0M1404.3 1003.8h0M734.1 1041.9h0M989.5 723.3h0M1100.9 278.0h0M1138.0 228.0h0M1282.0 507.3h0M944.9 323.4h0M1121.8 237.7h0M1336.4 488.0h0M1453.7 1058.5h0M1659.3 750.4h0M967.3 1227.8h0M1356.5 532.9h0M1148.1 304.4h0M1455.6 1073.1h0M437.7 694.4h0M1072.4 1152.7h0M1253.7 493.6h0M1332.4 488.6h0M1704.8 321.5h0M1035.6 327.3h0M1142.0 346.8h0M1015.3 1151.5h0M1673.6 426.1h0M908.3 294.4h0M1150.4 461.2h0M1412.8 1000.8h0M1457.7 1147.8h0M1376.1 917.4h0M1340.0 462.8h0M1164.4 223.0h0M1396.7 1017.6h0M1360.7 465.1h0M1376.4 555.6h0M712.6 1045.6h0M1227.9 501.0h0M1323.6 542.7h0M1330.7 520.6h0M934.3 291.6h0M1474.8 1153.3h0M1205.4 280.9h0M639.8 979.1h0M1480.2 1107.6h0M1354.1 461.6h0M1029.7 317.1h0M875.5 343.2h0"/>
<path stroke="#651b80" d="M1385.8 491.3h0M1086.4 292.0h0M1455.8 1143.9h0M1056.3 1041.9h0M924.6 322.0h0M1182.3 280.9h0M797.6 777.5h0M1700.8 372.3h0M1272.8 481.2h0M1434.4 1129.1h0M1267.0 485.4h0M1486.8 1127.8h0M886.5 1133.5h0M882.2 738.3h0M1472.5 1153.0h0M1486.5 1120.1h0M800.3 785.9h0M796.6 699.6h0M1145.5 228.3h0M904.4 286.1h0M1614.5 669.5h0M908.5 333.6h0M1428.4 1103.1h0M1206.0 276.5h0M1258.5 492.5h0M1220.4 251.6h0M1465.2 1157.1h0M708.1 1026.4h0"/>
<path stroke="#982d80" d="M1340.4 465.9h0M1641.6 769.9h0M905.4 278.6h0M1415.5 1030.1h0M881.8 308.5h0M1691.8 333.4h0M862.5 291.4h0M1359.0 518.0h0M1020.8 322.3h0M1457.6 1133.0h0M998.9 1143.6h0M1092.9 292.9h0M1076.6 793.7h0M949.7 1215.9h0M955.9 1160.3h0M893.5 1135.3h0M1291.8 501.3h0M984.4 315.3h0"/>
<path stroke="#55147d" d="M1186.5 265.9h0M1208.7 263.3h0M1174.8 289.0h0M1042.3 1067.4h0M913.0 307.7h0M1372.5 986.3h0M722.9 1028.3h0M1329.1 524.7h0M1432.8 1050.3h0M947.3 1207.0h0M1513.3 1129.2h0M350.3 779.9h0M1059.9 330.2h0M999.4 306.1h0M1132.6 1155.6h0M833.7 637.2h0M1168.9 475.0h0M894.2 1138.8h0M806.5 679.5h0M1656.4 396.4h0M961.2 313.6h0M966.1 296.9h0M1177.1 284.8h0M1186.9 287.7h0"/>
<path stroke="#a9337d" d="M1381.9 1008.9h0M1230.8 484.5h0M1273.0 473.8h0M1012.7 781.1h0M670.2 986.9h0M1135.0 451.8h0M1410.5 993.6h0M989.1 1147.8h0M1347.0 475.0h0M1069.1 790.7h0M1309.2 480.8h0M1053.2 1051.0h0M936.6 1194.1h0M1327.3 480.7h0"/>
<path stroke="#ee5d5c" d="M973.4 1147.8h0M1046.0 318.1h0M1400.1 925.0h0M1700.8 365.9h0"/>
<path stroke="#da4867" d="M1056.2 419.7h0M1032.0 352.7h0M1439.3 1102.4h0M1692.6 356.3h0M1374.3 977.4h0M960.5 1157.8h0M1425.7 1145.5h0"/>
<path stroke="#d3436b" d="M1682.2 384.6h0M364.4 779.7h0M908.8 342.0h0M1014.2 760.1h0M1667.3 420.8h0M909.3 754.0h0M904.5 333.4h0"/>
<path stroke="#5d177f" d="M986.4 1228.4h0M1436.5 1149.2h0M1040.9 1065.1h0M879.8 739.3h0M1345.6 544.7h0M638.3 967.0h0M1126.7 216.2h0M1090.5 330.7h0M1131.3 463.4h0M1661.1 402.1h0M1007.8 298.0h0M1312.6 580.0h0M1461.1 1081.2h0M1112.9 380.7h0M1486.1 1131.6h0M1049.9 325.6h0M1366.4 495.0h0M1137.1 225.2h0M1157.6 477.2h0M1154.7 246.2h0M1010.0 1152.8h0M1443.3 1066.2h0M724.3 1032.7h0M1372.6 505.8h0"/>
<path stroke="#e8555d" d="M1144.8 1157.7h0M929.9 1197.9h0M1435.6 1140.9h0M1690.3 296.5h0M905.0 736.0h0M1669.9 307.8h0M822.1 789.0h0"/>
<path stroke="#fce9ae" d="M410.4 697.9h0"/>
<path stroke="#a1307e" d="M904.0 1141.1h0M1362.7 981.2h0M1142.2 227.0h0M1320.9 554.0h0M887.7 759.8h0M958.1 296.5h0M1396.4 986.4h0M1641.7 785.9h0M1399.0 934.2h0M989.7 297.6h0M1404.6 927.4h0M1409.6 944.5h0M1344.4 576.9h0M1680.3 332.5h0"/>
<path stroke="#f2655c" d="M1016.3 1175.4h0M640.5 972.6h0M956.4 746.3h0"/>
<path stroke="#fb8861" d="M933.1 298.5h0M642.6 992.6h0M919.4 761.7h0M636.7 983.0h0"/>
<path stroke="#fde0a3" d="M425.7 687.1h0"/>
<path stroke="#cc406f" d="M1060.3 1159.8h0M913.5 315.9h0M867.3 791.5h0M1014.4 320.6h0M1400.9 913.0h0"/>
<path stroke="#fc9264" d="M418.5 685.8h0M1405.0 990.9h0M1011.1 1149.9h0"/>
<path stroke="#feb47b" d="M408.7 694.8h0"/>
<path stroke="#982d80" d="M948.1 339.1h0M1361.1 506.3h0M1359.9 568.6h0M1375.6 524.6h0M912.0 1121.9h0M1268.7 505.0h0M938.3 1165.6h0M1667.3 748.7h0M1679.4 300.3h0M990.5 713.9h0M1094.3 800.9h0M1051.9 1165.9h0M1412.6 925.6h0M947.8 1197.2h0M1666.1 764.8h0M1704.0 331.4h0M977.8 731.7h0M1113.1 1147.5h0M919.3 1153.5h0M1158.0 427.3h0"/>
<path stroke="#a1307e" d="M956.2 1152.9h0M1400.9 945.5h0M1028.7 1112.8h0M1599.2 664.0h0M931.7 1216.8h0M831.1 655.3h0M839.6 666.0h0M1044.1 424.2h0M1606.4 673.9h0M1698.6 330.6h0M870.3 300.0h0M995.6 318.4h0M1058.0 388.7h0M1262.6 492.0h0M1431.8 1099.7h0M1262.0 475.2h0M1063.1 1181.5h0M918.0 766.4h0M802.6 793.1h0M670.7 469.3h0M1048.1 1143.3h0"/>
<path stroke="#000004" d="M1156.3 219.6h0M895.8 1104.8h0M297.3 753.6h0M963.6 1143.6h0M1372.5 983.5h0M904.8 1113.8h0M974.9 731.5h0M637.9 992.5h0M1227.4 492.6h0M698.8 993.7h0M1154.6 215.3h0M1020.4 320.6h0M1316.8 496.6h0M1117.4 238.9h0M1433.8 924.8h0M1147.4 301.3h0M1210.0 455.7h0M955.4 290.5h0M1441.4 1055.7h0M1474.2 1118.7h0M1374.4 952.6h0M1372.8 954.6h0M1451.0 1086.9h0M1663.7 376.2h0M1162.2 221.5h0M1038.8 1030.2h0M1674.5 747.6h0M1331.5 469.4h0M1008.7 1138.0h0M1443.4 1084.9h0M1112.0 284.7h0M889.3 789.1h0M1457.3 1082.0h0M1255.1 480.6h0M892.8 311.5h0M697.5 1059.1h0M1335.7 461.3h0M1312.0 506.3h0M735.0 1029.9h0M1335.2 584.2h0M1071.2 304.6h0M687.2 1042.8h0M930.0 1222.8h0M336.3 769.8h0M622.4 980.8h0M1679.9 377.2h0M1648.6 736.8h0M1306.6 480.2h0M1126.1 254.2h0M1054.5 310.8h0M1152.7 239.9h0M1107.6 1155.1h0M1074.0 793.3h0M1372.7 498.1h0M1166.2 220.2h0M1141.5 463.1h0"/>
<path stroke="#a9337d" d="M715.2 1047.9h0M1473.3 1138.4h0M1694.1 442.2h0M894.2 289.8h0M805.2 787.6h0M1041.9 1142.9h0M983.1 736.4h0M1062.5 792.6h0M1684.8 434.8h0M997.1 302.8h0M714.9 1042.3h0M1032.4 1179.2h0M1370.3 951.2h0M817.3 790.0h0M1682.1 379.7h0M1365.0 506.8h0M1135.5 351.3h0M1181.9 294.0h0M893.0 276.0h0M903.2 301.0h0"/>
<path stroke="#ee5d5c" d="M988.4 1140.5h0M1057.7 1146.5h0M1050.7 1171.7h0M1406.3 948.1h0M952.1 1210.2h0M341.7 783.6h0"/>
<path stroke="#651b80" d="M1062.3 1042.7h0M1138.9 207.1h0M1648.6 749.4h0M1124.9 406.0h0M1600.8 664.1h0M951.4 1193.2h0M889.8 1101.8h0M1448.4 1085.2h0M1125.5 818.2h0M1386.2 494.7h0M1193.0 283.1h0M1074.9 336.1h0M987.2 343.3h0M1044.7 777.3h0M1129.1 225.4h0M1185.6 488.4h0M1638.3 782.8h0M834.8 630.0h0"/>
<path stroke="#55147d" d="M722.4 1030.0h0M802.1 783.8h0M1286.6 490.0h0M399.2 706.9h0M1641.6 772.0h0M1247.6 241.3h0M1682.3 342.6h0M884.8 761.5h0M1143.4 486.8h0M993.3 295.4h0M1465.3 1123.5h0M1689.7 306.7h0M1065.1 1082.3h0M1192.1 273.6h0M971.1 1162.4h0M1442.7 1082.5h0M1185.7 292.1h0M1385.6 980.7h0M1103.8 802.6h0M1678.3 433.9h0M1488.9 1115.5h0"/>
<path stroke="#cc406f" d="M1436.2 1112.0h0M840.6 643.4h0M1139.6 476.7h0M976.7 346.0h0M1008.2 341.3h0M994.3 342.4h0M1017.0 787.7h0M1692.4 431.4h0M1004.0 760.2h0"/>
<path stroke="#e8555d" d="M932.9 1161.3h0M950.9 1236.9h0M1017.3 768.5h0M979.2 1231.4h0M1047.6 1085.5h0M1673.8 385.9h0M1374.8 507.2h0M1037.4 1161.0h0M950.4 302.6h0"/>
<path stroke="#d3436b" d="M946.8 1155.6h0M1480.2 1080.2h0M886.4 1131.2h0M949.2 1144.9h0M953.9 1238.9h0M1059.5 319.9h0M974.8 287.5h0M1001.5 1172.6h0M1092.6 1083.5h0M971.4 1234.1h0M1027.1 1157.5h0"/>
<path stroke="#da4867" d="M1123.0 349.2h0M1275.4 502.7h0M981.8 346.3h0M1081.9 1161.5h0M1367.3 948.1h0M1388.3 990.3h0M905.5 738.1h0"/>
<path stroke="#5d177f" d="M1148.1 468.6h0M616.9 988.1h0M1072.0 329.3h0M838.6 628.0h0M867.0 291.9h0M841.0 632.0h0M1239.3 464.3h0M880.8 305.6h0M1675.1 346.2h0"/>
<path stroke="#f2655c" d="M1380.9 478.0h0M1029.1 783.9h0M934.5 1164.4h0M1687.9 318.3h0M1035.5 1170.0h0M956.4 1194.4h0M980.7 1141.5h0M1669.4 303.1h0M638.3 972.5h0M1051.5 1142.7h0"/>
<path stroke="#f97f5e" d="M1038.5 786.9h0"/>
<path stroke="#fc9264" d="M650.8 976.3h0"/>
<path stroke="#fb8861" d="M1048.6 1150.1h0"/>
<path stroke="#cc406f" d="M921.8 747.6h0M847.4 641.2h0M1638.3 795.8h0M857.9 637.3h0M937.5 1211.0h0M336.0 775.1h0M1672.2 740.0h0M1049.4 1048.9h0M948.5 753.5h0M932.7 317.2h0M1009.0 335.0h0"/>
<path stroke="#000004" d="M1407.3 1023.4h0M1028.9 1191.3h0M1452.2 1094.1h0M1090.6 1128.9h0M1183.0 488.4h0M1030.7 1187.1h0M1144.3 415.7h0M1268.5 504.0h0M664.8 1012.7h0M895.8 291.7h0M854.6 668.8h0M1328.9 578.2h0M1440.3 1081.7h0M1289.5 455.7h0M1137.5 242.0h0M1151.5 208.4h0M1636.7 777.9h0M1645.0 762.1h0M1139.1 222.5h0M789.9 707.0h0M1144.2 352.2h0M658.3 975.6h0M1397.6 1008.5h0M1040.8 1050.2h0M942.8 1206.9h0M1140.0 276.0h0M1406.9 987.9h0M1324.5 581.4h0M1456.1 1098.5h0M1438.3 1072.8h0M1083.0 795.4h0M1295.6 518.4h0M1081.0 313.0h0M1377.8 1008.8h0M1107.9 271.4h0M1659.2 746.0h0M1139.8 244.2h0M1197.4 456.0h0M1682.8 372.2h0M1666.8 357.5h0M635.8 964.9h0M1385.3 489.1h0M1135.1 248.3h0M1470.0 1095.3h0M1121.3 234.4h0M673.8 1030.7h0M1405.2 990.3h0M1175.0 246.2h0M1476.4 1141.8h0M1000.0 337.3h0M673.5 1018.7h0M1356.1 529.0h0M1139.9 209.1h0M837.9 637.3h0M1687.0 357.8h0M659.2 978.4h0M1678.5 437.4h0M1097.3 367.3h0M984.9 1198.9h0M1140.9 204.8h0M1482.8 1131.1h0"/>
<path stroke="#da4867" d="M1041.6 1176.5h0M1355.8 498.6h0M854.3 791.8h0M943.3 1174.0h0M1383.6 984.0h0M886.1 303.4h0M872.1 742.1h0M681.3 1037.8h0M922.2 1146.0h0M919.4 340.1h0M869.6 306.7h0M1680.9 349.4h0M1696.6 356.2h0M733.7 1028.7h0M801.8 786.7h0"/>
<path stroke="#651b80" d="M1081.1 341.4h0M917.7 332.1h0M1143.0 231.2h0M1023.9 1166.9h0M1220.7 256.9h0M1697.2 308.8h0M1448.3 1058.6h0M1448.1 1112.1h0M1160.2 265.8h0M814.4 649.1h0M1653.3 733.5h0M1098.7 1169.1h0M1018.8 760.2h0M1370.2 495.3h0M1000.9 747.2h0M1129.8 235.0h0M1216.5 257.7h0M1080.0 317.1h0M1333.9 555.7h0M893.6 774.8h0"/>
<path stroke="#55147d" d="M981.6 299.0h0M1445.5 1072.5h0M1453.2 1061.2h0M1354.8 542.2h0M1222.7 237.3h0M1663.1 423.4h0M1141.3 238.1h0M1419.7 1118.3h0M1346.6 563.7h0M726.7 1058.7h0M1197.6 286.0h0M885.0 345.3h0M1668.3 389.9h0M815.8 794.6h0M1467.8 1143.1h0M1013.4 336.8h0M994.6 748.2h0M1137.7 301.1h0"/>
<path stroke="#d3436b" d="M1155.3 266.0h0M1306.7 486.4h0M877.6 789.8h0M1692.0 427.6h0M946.0 1194.1h0M1681.1 357.7h0M361.9 790.3h0"/>
<path stroke="#982d80" d="M1071.3 360.7h0M1438.2 1052.0h0M1100.6 1162.4h0M925.6 312.6h0M1040.6 1182.0h0M1187.7 289.4h0M1369.9 525.3h0M933.2 1224.3h0M359.9 789.3h0M911.8 309.7h0M1158.8 250.7h0M1154.2 268.8h0M1682.4 407.1h0M1355.8 504.3h0M1414.8 1004.6h0M947.4 305.3h0"/>
<path stroke="#f2655c" d="M829.3 791.8h0M1337.2 465.0h0M1006.6 760.8h0M872.9 736.7h0M700.7 1033.0h0"/>
<path stroke="#a9337d" d="M941.3 288.1h0M851.0 790.3h0M957.9 346.5h0M680.0 488.3h0M1132.8 453.4h0M1424.8 1028.1h0M702.6 1033.4h0M1408.6 982.0h0M1348.7 560.5h0M970.5 296.2h0M1085.3 1076.9h0M1360.3 530.2h0M1640.8 779.3h0M973.4 1209.5h0M1368.5 507.7h0M1003.9 330.3h0M1070.0 336.9h0M1372.6 535.4h0M1352.8 528.1h0"/>
<path stroke="#a1307e" d="M357.7 779.3h0M1467.3 1087.4h0M792.8 692.6h0M1068.3 405.6h0M1156.4 262.9h0M1394.2 912.7h0M1637.0 780.8h0M1335.9 470.1h0M1091.9 312.2h0M1608.9 672.2h0M1313.5 458.8h0M1110.2 249.9h0M1464.2 1148.7h0M1047.5 1196.5h0"/>
<path stroke="#5d177f" d="M1063.9 1064.3h0M958.2 1190.6h0M1630.1 708.4h0M674.7 466.7h0M1118.7 237.6h0M935.5 316.6h0M1458.0 1063.9h0M791.9 706.7h0M1691.4 321.2h0M1138.9 220.6h0M1231.0 499.3h0M1347.1 523.7h0M798.2 785.4h0M693.5 994.6h0M1048.7 1075.4h0M1242.8 232.5h0M846.6 660.7h0M948.1 1188.0h0M948.3 318.0h0M1008.9 305.0h0"/>
<path stroke="#e8555d" d="M953.0 1168.5h0M956.7 1169.6h0M1023.8 770.6h0M826.3 671.8h0M1027.0 1195.2h0M1633.4 793.3h0"/>
<path stroke="#ee5d5c" d="M1006.4 1173.9h0M1672.5 400.5h0M1408.9 935.1h0M945.5 1245.9h0M1678.1 393.5h0M650.2 981.7h0M846.5 634.8h0"/>
<path stroke="#f97f5e" d="M1025.8 1144.7h0"/>
<path stroke="#cc406f" d="M1690.5 352.8h0M910.4 1146.9h0M803.7 787.1h0M1091.3 1076.4h0M1676.7 298.1h0M1103.0 270.4h0M952.1 1207.6h0M1269.4 486.1h0M908.4 765.3h0M1367.1 534.4h0M1070.3 404.4h0M1692.8 415.5h0"/>
<path stroke="#a1307e" d="M1496.0 1128.6h0M1081.5 302.6h0M1376.6 527.5h0M641.2 968.2h0M1484.3 1100.0h0M1187.9 280.1h0M1054.5 399.3h0M1432.4 926.4h0M1028.9 1155.0h0M1489.0 1093.5h0M999.2 757.4h0M1687.9 407.7h0"/>
<path stroke="#55147d" d="M352.0 787.5h0M1215.2 246.8h0M997.1 293.7h0M1312.9 534.3h0M1657.2 746.8h0M1070.7 1054.9h0M1300.7 480.2h0M1476.8 1094.6h0M959.0 1154.3h0M1157.8 452.0h0M1227.4 466.2h0M1372.5 509.6h0M1002.2 321.5h0M995.6 727.8h0M1431.1 1039.8h0M923.6 345.4h0M1151.0 301.1h0M1202.4 232.7h0M1429.3 1038.5h0M1136.9 479.5h0M1145.7 219.1h0M930.0 286.1h0M871.4 338.8h0"/>
<path stroke="#000004" d="M1137.6 348.6h0M1440.1 1095.9h0M1056.0 1076.0h0M1405.1 909.7h0M1669.3 302.6h0M1349.8 565.8h0M1041.9 330.8h0M1347.7 585.8h0M1327.2 583.7h0M1338.4 524.9h0M1509.2 1119.3h0M1197.4 288.6h0M1139.1 466.0h0M1341.9 505.0h0M1147.5 205.9h0M1183.6 262.9h0M1347.8 534.7h0M1442.6 1063.2h0M692.5 1035.5h0M952.1 323.0h0M1119.3 275.3h0M1702.2 376.2h0M303.5 756.4h0M1315.6 457.4h0M1049.6 1138.4h0M1114.1 230.1h0M1024.0 1164.4h0M1152.1 427.9h0M1026.9 313.2h0M1455.0 1132.8h0M1666.1 750.3h0M1032.8 1155.2h0M954.9 297.6h0M641.3 990.8h0M964.8 1192.4h0M1667.5 310.6h0M888.3 325.8h0M1157.5 302.0h0M1380.9 920.6h0M1322.9 579.2h0M1157.8 455.1h0M1062.5 412.4h0M1404.3 987.1h0M1218.3 458.1h0M1043.6 329.0h0M1117.2 245.8h0M1043.1 1145.6h0M1234.7 236.6h0M1328.9 540.9h0M1662.2 745.3h0M1046.1 344.2h0M1281.2 495.4h0M1420.6 920.2h0M1158.0 446.3h0M1663.9 760.8h0M1406.3 920.1h0M1397.6 939.1h0"/>
<path stroke="#da4867" d="M1059.6 786.3h0M1085.4 1085.0h0M1683.3 418.3h0M947.7 1237.2h0"/>
<path stroke="#651b80" d="M834.6 792.1h0M1056.3 409.8h0M1671.3 304.2h0M943.9 287.9h0M1483.3 1141.1h0M1051.3 1196.5h0M1092.4 798.0h0M1081.8 793.9h0M966.1 289.5h0M1445.5 1096.3h0M648.8 989.4h0M1298.0 479.8h0M1642.2 744.8h0M1702.5 312.6h0M1673.2 380.1h0M907.2 311.0h0M893.2 281.8h0M1137.2 235.2h0M1307.4 462.7h0M803.4 792.6h0M883.6 737.3h0M1054.3 1040.2h0M1129.0 1148.3h0M1091.3 1156.9h0M896.2 735.3h0M813.8 789.7h0M1593.4 656.1h0M954.4 299.7h0"/>
<path stroke="#a9337d" d="M901.4 781.1h0M947.4 1203.1h0M1047.0 1191.2h0M1325.9 571.7h0M1100.0 1154.2h0M963.5 1219.9h0M1125.6 462.0h0M1385.2 926.2h0M1613.2 666.5h0M822.7 631.2h0M1158.1 427.1h0M293.6 750.2h0M1600.5 662.4h0M666.3 1010.0h0M1205.5 285.0h0M1362.2 534.7h0M1054.8 1142.8h0M1036.7 1032.2h0M809.2 637.1h0"/>
<path stroke="#d3436b" d="M1335.7 577.6h0M947.7 315.8h0M1693.3 420.2h0M1020.9 316.6h0M1135.5 477.6h0M1661.8 318.1h0"/>
<path stroke="#982d80" d="M1341.9 581.5h0M932.2 309.1h0M1080.7 1079.3h0M1149.3 457.1h0M1068.9 408.5h0M956.6 1247.5h0M1666.0 314.1h0M919.3 283.8h0M440.0 671.7h0M1024.9 1177.8h0M1348.1 537.2h0M1227.5 250.1h0M1088.0 316.6h0M1685.5 331.5h0M910.6 337.9h0M1097.6 1105.1h0M929.9 1206.2h0"/>
<path stroke="#feb47b" d="M418.5 703.6h0M1231.2 490.0h0"/>
<path stroke="#f97f5e" d="M655.4 1001.6h0M427.7 691.3h0"/>
<path stroke="#5d177f" d="M1423.5 1032.0h0M800.3 697.0h0M793.0 696.4h0M1132.2 207.6h0M1104.5 267.0h0M1155.8 253.9h0M1331.5 465.9h0M1045.6 1055.3h0M1115.3 277.3h0M987.3 725.3h0M807.8 689.4h0M664.7 470.7h0M1358.3 503.0h0M982.4 737.9h0M1028.8 1060.5h0M1049.4 415.3h0M943.3 311.0h0M1112.0 303.3h0M1196.9 291.2h0M1141.5 471.5h0M672.0 991.9h0M864.1 292.5h0M1166.1 259.0h0M821.7 642.4h0M1085.5 296.7h0"/>
<path stroke="#ee5d5c" d="M1363.9 563.4h0M957.2 308.5h0M1318.6 529.0h0M348.6 785.7h0M1065.3 1135.9h0"/>
<path stroke="#f2655c" d="M643.7 995.1h0M1500.0 1130.7h0M1681.5 437.0h0"/>
<path stroke="#e8555d" d="M952.3 748.3h0M941.2 1167.0h0"/>
<path stroke="#fc9264" d="M633.5 994.1h0M1376.5 928.3h0"/>
<path stroke="#fb8861" d="M643.6 972.7h0"/>
<path stroke="#982d80" d="M839.4 645.6h0M1066.8 1067.9h0M1062.4 1136.6h0M1088.8 797.1h0M1157.1 223.2h0M668.3 464.3h0M1657.9 757.4h0M990.5 715.6h0M915.6 302.8h0M796.2 690.8h0M1299.1 513.0h0M1132.7 306.5h0M946.1 325.5h0"/>
<path stroke="#651b80" d="M1227.4 252.2h0M1031.5 1101.9h0M1359.3 940.6h0M1512.4 1126.1h0M1216.6 458.6h0M974.8 311.6h0M887.8 341.2h0M1034.6 1036.0h0M1691.0 314.8h0M1147.9 455.6h0M884.0 332.4h0M1324.0 464.0h0M1077.3 1108.6h0M662.7 472.7h0M1313.6 540.0h0M1363.6 528.5h0M1651.8 748.4h0M1422.4 1030.5h0M1632.4 710.1h0M1690.4 303.7h0M1090.4 1086.6h0M1026.2 764.8h0M1142.0 467.7h0M1192.7 490.4h0M1200.0 287.1h0M1264.4 469.4h0"/>
<path stroke="#5d177f" d="M987.1 329.9h0M1298.9 521.9h0M1652.3 765.7h0M1146.5 471.9h0M1453.4 1094.0h0M1663.0 765.4h0M866.3 307.7h0M1487.2 1117.2h0M1395.2 1010.7h0M1169.7 269.8h0M847.1 663.1h0M421.8 706.0h0M1664.8 756.8h0M863.5 623.8h0M1584.6 651.7h0M934.0 1193.8h0M679.3 469.3h0M1166.7 263.9h0M951.5 1145.7h0M1354.5 570.6h0M1201.6 235.3h0M1692.4 348.1h0M984.5 295.0h0"/>
<path stroke="#d3436b" d="M690.6 1043.7h0M1661.9 417.6h0M1317.9 553.6h0M924.1 316.9h0M1671.3 298.1h0M949.6 1166.7h0M1297.8 471.6h0M911.7 758.4h0M1031.5 353.0h0M1639.0 774.0h0"/>
<path stroke="#000004" d="M1339.3 533.3h0M1401.2 937.9h0M1237.4 497.4h0M712.7 1028.7h0M676.8 1031.9h0M1182.3 291.5h0M1191.2 278.6h0M1446.6 930.4h0M1050.1 336.0h0M1392.4 926.5h0M1097.5 289.4h0M1330.6 516.7h0M1049.8 1068.9h0M1698.8 364.3h0M679.8 1030.2h0M1216.3 254.1h0M1657.2 758.8h0M1295.7 469.0h0M673.9 991.7h0M1445.0 1045.3h0M1457.0 1089.7h0M641.7 984.1h0M1689.1 362.5h0M1133.1 255.0h0M1286.1 506.0h0M1155.3 239.7h0M657.8 1003.2h0M1127.8 227.6h0M831.0 695.1h0M1665.9 313.9h0M955.7 1250.8h0M1107.2 268.2h0M1160.5 486.1h0M1132.5 297.8h0M1144.9 209.2h0M1197.2 280.2h0M1399.7 999.2h0M1057.6 318.8h0M1146.8 328.3h0M1130.9 249.8h0M1646.5 785.6h0M1642.5 764.1h0M1408.6 1008.4h0M678.6 993.6h0M1051.1 409.0h0M1318.3 470.5h0M700.1 1053.6h0M1390.2 1013.7h0M695.8 1057.5h0M1117.9 1144.3h0M1295.6 483.1h0M404.0 719.6h0"/>
<path stroke="#cc406f" d="M1108.4 252.8h0M967.2 1142.1h0M716.9 1048.5h0M1040.2 1156.0h0M1032.5 1108.6h0M683.5 995.7h0M1020.7 781.9h0M1391.0 921.2h0M888.4 758.4h0"/>
<path stroke="#55147d" d="M1150.8 467.7h0M1146.9 240.7h0M1042.3 1062.6h0M810.5 792.0h0M1331.8 502.5h0M997.0 754.9h0M1060.1 413.3h0M1366.4 465.4h0M884.2 328.6h0M1459.3 1128.0h0M1608.1 678.3h0M1006.5 1176.8h0M1653.4 736.8h0M1127.3 306.0h0M1624.7 703.6h0M881.3 310.6h0M1482.9 1095.7h0M1115.2 228.6h0M947.0 1231.8h0M1142.6 222.4h0M1612.2 686.1h0"/>
<path stroke="#f2655c" d="M952.9 1142.8h0M342.2 780.9h0M1014.1 785.4h0M1325.8 478.8h0M1597.6 660.6h0"/>
<path stroke="#ee5d5c" d="M1002.5 758.9h0M1024.6 1198.3h0M1356.7 562.0h0M926.8 1228.8h0M1243.6 442.1h0"/>
<path stroke="#e8555d" d="M912.9 755.3h0M945.5 755.9h0M828.5 796.1h0M1017.7 777.9h0M826.7 649.9h0M1500.9 1122.2h0"/>
<path stroke="#da4867" d="M1058.6 788.7h0M1668.3 360.9h0M681.8 995.7h0M1434.0 1143.1h0M1115.2 1164.3h0M663.9 1009.7h0M1238.6 472.9h0M1047.0 331.9h0M1060.4 1182.8h0"/>
<path stroke="#a9337d" d="M807.6 681.4h0M1604.6 665.9h0M662.7 464.0h0M1430.0 1082.8h0M1700.7 309.0h0M1361.2 982.7h0M1298.4 475.2h0M1610.7 664.5h0M1306.8 454.7h0M872.3 740.1h0M864.9 624.6h0M1679.0 296.1h0M1652.4 734.9h0M938.8 1199.5h0M1098.0 314.5h0M987.8 745.5h0M916.2 324.0h0M1242.1 242.9h0M1475.1 1131.2h0M1242.9 245.7h0M1177.2 263.6h0M1379.5 515.7h0M1158.4 291.8h0M920.7 1141.3h0M926.1 278.2h0M1047.9 1045.1h0"/>
<path stroke="#a1307e" d="M1384.4 934.0h0M300.1 754.0h0M903.4 1105.8h0M1129.4 462.8h0M1681.2 442.4h0M1374.8 546.9h0M875.0 740.0h0M915.7 314.9h0"/>
<path stroke="#fec88c" d="M404.8 689.4h0"/>
<path stroke="#fc9264" d="M1701.2 318.8h0M404.8 698.6h0M996.4 731.4h0"/>
<path stroke="#febe83" d="M407.0 686.4h0"/>
<path stroke="#feb47b" d="M399.9 679.8h0"/>
<path stroke="#f97f5e" d="M905.2 771.3h0"/>
<path stroke="#e8555d" d="M893.6 1130.9h0M1048.3 1089.4h0M953.7 1231.1h0"/>
<path stroke="#a1307e" d="M1143.7 218.5h0M1378.9 500.1h0"/>
<path stroke="#000004" d="M1156.1 217.1h0M1040.8 1164.6h0M1088.7 341.3h0M1357.2 552.8h0M1420.0 918.2h0M1653.7 758.3h0M1311.7 532.3h0M1161.5 302.7h0M1259.7 471.6h0M1285.0 493.9h0M1338.8 567.1h0M1627.4 705.6h0"/>
<path stroke="#982d80" d="M794.8 781.2h0M1321.8 546.4h0M1017.1 1199.3h0M1005.8 757.1h0"/>
<path stroke="#651b80" d="M1220.0 458.2h0M1437.4 1061.5h0M1445.9 1087.1h0M1042.9 1085.2h0M1132.6 205.4h0M1218.9 461.1h0M1417.6 1007.7h0"/>
<path stroke="#cc406f" d="M716.1 1056.2h0"/>
<path stroke="#da4867" d="M1070.2 794.6h0"/>
<path stroke="#d3436b" d="M985.7 724.7h0"/>
<path stroke="#55147d" d="M1154.4 211.3h0M1013.7 777.3h0"/>
</g>
</svg></body></html>
